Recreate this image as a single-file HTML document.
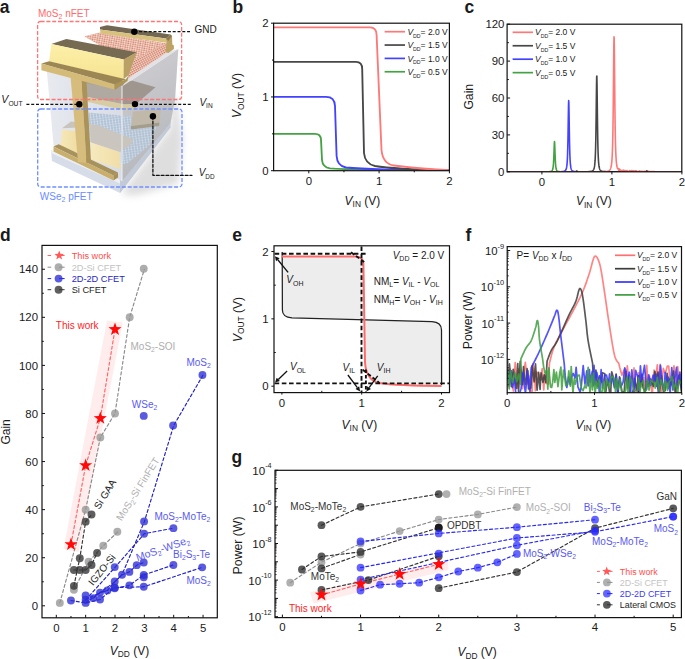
<!DOCTYPE html>
<html><head><meta charset="utf-8"><style>
html,body{margin:0;padding:0;background:#fff;width:685px;height:659px;overflow:hidden}
svg{display:block;font-family:"Liberation Sans", sans-serif}
</style></head><body>
<svg width="685" height="659" viewBox="0 0 685 659" font-family="'Liberation Sans', sans-serif">
<rect width="685" height="659" fill="#fff"/>
<clipPath id="cb"><rect x="273.6" y="22.2" width="175.79999999999995" height="148.0"/></clipPath>
<path d="M273.6,133.9 H315 C318.5,133.9 320.8,136 321,139.5 L322,160 C322.4,165 324.5,167.5 330,168.3 C345,169.5 380,170.2 449.4,170.6" fill="none" stroke="#44a244" stroke-width="1.85" clip-path="url(#cb)"/>
<path d="M273.6,96.9 H326 C331,96.9 334.8,99.5 335,106 L336.6,156 C337,163 340,166.5 346,167.5 C365,169.3 390,170 449.4,170.5" fill="none" stroke="#4343ff" stroke-width="1.85" clip-path="url(#cb)"/>
<path d="M273.6,61.9 H356 C360,61.9 362.2,64.5 362.2,69 L364,153 C364.6,160 368,164.5 375,166 C390,168.5 410,169.5 449.4,170.4" fill="none" stroke="#474747" stroke-width="1.85" clip-path="url(#cb)"/>
<path d="M273.6,27.3 H370 C374,27.3 376.6,30 376.6,35 L381.5,150 C382.3,158 386,164.5 394,165.5 C410,167.5 430,169.5 449.4,170.2" fill="none" stroke="#ff7878" stroke-width="1.85" clip-path="url(#cb)"/>
<rect x="273.6" y="23.2" width="175.8" height="147.5" fill="none" stroke="#111111" stroke-width="1.2" />
<line x1="271" y1="170.7" x2="273.6" y2="170.7" stroke="#111111" stroke-width="1" />
<line x1="271" y1="96.95" x2="273.6" y2="96.95" stroke="#111111" stroke-width="1" />
<line x1="271" y1="23.2" x2="273.6" y2="23.2" stroke="#111111" stroke-width="1" />
<line x1="272" y1="133.82" x2="273.6" y2="133.82" stroke="#111111" stroke-width="1" />
<line x1="272" y1="60.07" x2="273.6" y2="60.07" stroke="#111111" stroke-width="1" />
<line x1="308.8" y1="170.7" x2="308.8" y2="173.3" stroke="#111111" stroke-width="1" />
<line x1="379.1" y1="170.7" x2="379.1" y2="173.3" stroke="#111111" stroke-width="1" />
<line x1="449.4" y1="170.7" x2="449.4" y2="173.3" stroke="#111111" stroke-width="1" />
<line x1="343.95" y1="170.7" x2="343.95" y2="172.3" stroke="#111111" stroke-width="1" />
<line x1="414.25" y1="170.7" x2="414.25" y2="172.3" stroke="#111111" stroke-width="1" />
<text x="268.6" y="174.8" font-size="11.4" fill="#1a1a1a" text-anchor="end" >0</text>
<text x="308.8" y="185.4" font-size="11.4" fill="#1a1a1a" text-anchor="middle" >0</text>
<text x="268.6" y="101.05" font-size="11.4" fill="#1a1a1a" text-anchor="end" >1</text>
<text x="379.1" y="185.4" font-size="11.4" fill="#1a1a1a" text-anchor="middle" >1</text>
<text x="268.6" y="27.3" font-size="11.4" fill="#1a1a1a" text-anchor="end" >2</text>
<text x="449.4" y="185.4" font-size="11.4" fill="#1a1a1a" text-anchor="middle" >2</text>
<line x1="384.6" y1="31.7" x2="405" y2="31.7" stroke="#ff7878" stroke-width="1.7" />
<text x="407.4" y="34.8" font-size="8.5" fill="#1a1a1a" ><tspan font-style="italic">V</tspan><tspan font-size="5.2" dy="2.8">DD</tspan><tspan dy="-2.8">= 2.0 V</tspan></text>
<line x1="384.6" y1="45.05" x2="405" y2="45.05" stroke="#474747" stroke-width="1.7" />
<text x="407.4" y="48.15" font-size="8.5" fill="#1a1a1a" ><tspan font-style="italic">V</tspan><tspan font-size="5.2" dy="2.8">DD</tspan><tspan dy="-2.8">= 1.5 V</tspan></text>
<line x1="384.6" y1="58.4" x2="405" y2="58.4" stroke="#4343ff" stroke-width="1.7" />
<text x="407.4" y="61.5" font-size="8.5" fill="#1a1a1a" ><tspan font-style="italic">V</tspan><tspan font-size="5.2" dy="2.8">DD</tspan><tspan dy="-2.8">= 1.0 V</tspan></text>
<line x1="384.6" y1="71.75" x2="405" y2="71.75" stroke="#44a244" stroke-width="1.7" />
<text x="407.4" y="74.85" font-size="8.5" fill="#1a1a1a" ><tspan font-style="italic">V</tspan><tspan font-size="5.2" dy="2.8">DD</tspan><tspan dy="-2.8">= 0.5 V</tspan></text>
<text x="241" y="118" font-size="12" fill="#1a1a1a" transform="rotate(-90 241 118)" ><tspan font-style="italic">V</tspan><tspan font-size="8.4" dy="2.6">OUT</tspan><tspan dy="-2.6"> (V)</tspan></text>
<text x="344.6" y="204.5" font-size="12" fill="#1a1a1a" ><tspan font-style="italic">V</tspan><tspan font-size="8.4" dy="2.6">IN</tspan><tspan dy="-2.6"> (V)</tspan></text>
<text x="232.6" y="12.75" font-size="17.5" fill="#1a1a1a" font-weight="bold" >b</text>
<clipPath id="cc"><rect x="507.1" y="24.2" width="174.69999999999993" height="147.60000000000002"/></clipPath>
<polyline points="506.9,171.8 507.6,171.8 508.3,171.8 509,171.8 509.7,171.8 510.4,171.8 511.1,171.8 511.8,171.8 512.5,171.8 513.2,171.8 513.9,171.8 514.6,171.8 515.3,171.8 516,171.8 516.7,171.8 517.4,171.8 518.1,171.8 518.8,171.8 519.5,171.8 520.2,171.8 520.9,171.8 521.6,171.8 522.3,171.8 523,171.8 523.7,171.8 524.4,171.8 525.1,171.8 525.8,171.8 526.5,171.8 527.2,171.8 527.9,171.8 528.6,171.8 529.3,171.8 530,171.8 530.7,171.8 531.4,171.8 532.1,171.8 532.8,171.8 533.5,171.8 534.2,171.8 534.9,171.8 535.6,171.8 536.3,171.8 537,171.8 537.7,171.8 538.4,171.8 539.1,171.79 539.8,171.79 540.5,171.79 541.2,171.79 541.9,171.79 542.6,171.79 543.3,171.79 544,171.78 544.7,171.78 545.4,171.77 546.1,171.77 546.8,171.76 547.5,171.74 548.2,171.72 548.9,171.69 549.08,171.68 549.25,171.67 549.42,171.65 549.6,171.64 549.77,171.62 549.95,171.6 550.12,171.57 550.3,171.54 550.48,171.51 550.65,171.47 550.83,171.43 551,171.37 551.17,171.3 551.35,171.22 551.52,171.12 551.7,171 551.88,170.85 552.05,170.65 552.23,170.41 552.4,170.09 552.58,169.66 552.75,169.1 552.92,168.35 553.1,167.31 553.27,165.88 553.45,163.89 553.62,161.15 553.8,157.45 553.98,152.8 554.15,147.68 554.33,143.39 554.5,141.67 554.67,143.39 554.85,147.68 555.02,152.8 555.2,157.45 555.38,161.15 555.55,163.89 555.73,165.88 555.9,167.31 556.08,168.35 556.25,169.1 556.42,169.66 556.6,170.09 556.77,170.41 556.95,170.65 557.12,170.85 557.3,171 557.48,171.12 557.65,171.22 557.83,171.3 558,171.37 558.17,171.43 558.35,171.47 558.52,171.51 558.7,171.54 558.88,171.57 559.05,171.6 559.23,171.62 559.4,171.64 559.58,171.65 559.75,171.67 559.92,171.68 560.1,171.69 560.8,171.72 561.5,171.74 562.2,171.76 562.9,171.77 563.6,171.77 564.3,171.78 565,171.78 565.7,171.79 566.4,171.79 567.1,171.79 567.8,171.79 568.5,171.79 569.2,171.79 569.9,171.79 570.6,171.8 571.3,171.8 572,171.8 572.7,171.8 573.4,171.8 574.1,171.8 574.8,171.8 575.5,171.8 576.2,171.8 576.9,171.8 577.6,171.8 578.3,171.8 579,171.8 579.7,171.8 580.4,171.8 581.1,171.8 581.8,171.8 582.5,171.8 583.2,171.8 583.9,171.8 584.6,171.8 585.3,171.8 586,171.8 586.7,171.8 587.4,171.8 588.1,171.8 588.8,171.8 589.5,171.8 590.2,171.8 590.9,171.8 591.6,171.8 592.3,171.8 593,171.8 593.7,171.8 594.4,171.8 595.1,171.8 595.8,171.8 596.5,171.8 597.2,171.8 597.9,171.8 598.6,171.8 599.3,171.8 600,171.8 600.7,171.8 601.4,171.8 602.1,171.8 602.8,171.8 603.5,171.8 604.2,171.8 604.9,171.8 605.6,171.8 606.3,171.8 607,171.8 607.7,171.8 608.4,171.8 609.1,171.8 609.8,171.8 610.5,171.8 611.2,171.8 611.9,171.8 612.6,171.8 613.3,171.8 614,171.8 614.7,171.8 615.4,171.8 616.1,171.8 616.8,171.8 617.5,171.8 618.2,171.8 618.9,171.8 619.6,171.8 620.3,171.8 621,171.8 621.7,171.8 622.4,171.8 623.1,171.8 623.8,171.8 624.5,171.8 625.2,171.8 625.9,171.8 626.6,171.8 627.3,171.8 628,171.8 628.7,171.8 629.4,171.8 630.1,171.8 630.8,171.8 631.5,171.8 632.2,171.8 632.9,171.8 633.6,171.8 634.3,171.8 635,171.8 635.7,171.8 636.4,171.8 637.1,171.8 637.8,171.8 638.5,171.8 639.2,171.8 639.9,171.8 640.6,171.8 641.3,171.8 642,171.8 642.7,171.8 643.4,171.8 644.1,171.8 644.8,171.8 645.5,171.8 646.2,171.8 646.9,171.8 647.6,171.8 648.3,171.8 649,171.8 649.7,171.8 650.4,171.8 651.1,171.8 651.8,171.8 652.5,171.8 653.2,171.8 653.9,171.8 654.6,171.8 655.3,171.8 656,171.8 656.7,171.8 657.4,171.8 658.1,171.8 658.8,171.8 659.5,171.8 660.2,171.8 660.9,171.8 661.6,171.8 662.3,171.8 663,171.8 663.7,171.8 664.4,171.8 665.1,171.8 665.8,171.8 666.5,171.8 667.2,171.8 667.9,171.8 668.6,171.8 669.3,171.8 670,171.8 670.7,171.8 671.4,171.8 672.1,171.8 672.8,171.8 673.5,171.8 674.2,171.8 674.9,171.8 675.6,171.8 676.3,171.8 677,171.8 677.7,171.8 678.4,171.8 679.1,171.8 679.8,171.8 680.5,171.8 681.2,171.8 681.9,171.8" fill="none" stroke="#44a244" stroke-width="1.6" stroke-linejoin="round" stroke-linecap="round" clip-path="url(#cc)"/>
<polyline points="506.9,171.8 507.6,171.8 508.3,171.8 509,171.8 509.7,171.8 510.4,171.8 511.1,171.8 511.8,171.8 512.5,171.8 513.2,171.8 513.9,171.8 514.6,171.8 515.3,171.8 516,171.8 516.7,171.8 517.4,171.8 518.1,171.8 518.8,171.8 519.5,171.8 520.2,171.8 520.9,171.8 521.6,171.8 522.3,171.8 523,171.8 523.7,171.8 524.4,171.8 525.1,171.8 525.8,171.8 526.5,171.8 527.2,171.8 527.9,171.8 528.6,171.8 529.3,171.8 530,171.8 530.7,171.8 531.4,171.8 532.1,171.8 532.8,171.8 533.5,171.8 534.2,171.8 534.9,171.8 535.6,171.8 536.3,171.8 537,171.8 537.7,171.8 538.4,171.8 539.1,171.8 539.8,171.8 540.5,171.8 541.2,171.8 541.9,171.8 542.6,171.8 543.3,171.8 544,171.8 544.7,171.8 545.4,171.8 546.1,171.8 546.8,171.79 547.5,171.79 548.2,171.79 548.9,171.79 549.6,171.79 550.3,171.79 551,171.79 551.7,171.79 552.4,171.79 553.1,171.79 553.8,171.78 554.5,171.78 555.2,171.78 555.9,171.77 556.6,171.77 557.3,171.76 558,171.76 558.7,171.75 559.4,171.73 560.1,171.72 560.8,171.69 561.5,171.66 562.2,171.61 562.9,171.54 563.6,171.42 563.77,171.37 563.95,171.33 564.12,171.27 564.3,171.21 564.48,171.14 564.65,171.05 564.83,170.95 565,170.84 565.17,170.69 565.35,170.53 565.52,170.32 565.7,170.07 565.88,169.76 566.05,169.38 566.23,168.9 566.4,168.29 566.58,167.5 566.75,166.47 566.92,165.12 567.1,163.3 567.27,160.84 567.45,157.48 567.62,152.87 567.8,146.58 567.98,138.21 568.15,127.73 568.33,116.07 568.5,105.8 568.67,100.62 568.85,102.92 569.02,111.6 569.2,123.11 569.38,134.25 569.55,143.5 569.73,150.58 569.9,155.81 570.08,159.62 570.25,162.41 570.43,164.45 570.6,165.98 570.77,167.12 570.95,168 571.12,168.67 571.3,169.2 571.48,169.62 571.65,169.96 571.83,170.23 572,170.45 572.18,170.63 572.35,170.78 572.52,170.91 572.7,171.02 572.88,171.11 573.05,171.18 573.23,171.25 573.4,171.31 573.58,171.36 573.75,171.4 573.93,171.44 574.1,171.47 574.27,171.5 574.45,171.53 575.15,171.6 575.85,171.66 576.55,171.69 577.25,171.72 577.95,171.73 578.65,171.75 579.35,171.76 580.05,171.76 580.75,171.77 581.45,171.77 582.15,171.78 582.85,171.78 583.55,171.78 584.25,171.79 584.95,171.79 585.65,171.79 586.35,171.79 587.05,171.79 587.75,171.79 588.45,171.79 589.15,171.79 589.85,171.79 590.55,171.79 591.25,171.8 591.95,171.8 592.65,171.8 593.35,171.8 594.05,171.8 594.75,171.8 595.45,171.8 596.15,171.8 596.85,171.8 597.55,171.8 598.25,171.8 598.95,171.8 599.65,171.8 600.35,171.8 601.05,171.8 601.75,171.8 602.45,171.8 603.15,171.8 603.85,171.8 604.55,171.8 605.25,171.8 605.95,171.8 606.65,171.8 607.35,171.8 608.05,171.8 608.75,171.8 609.45,171.8 610.15,171.8 610.85,171.8 611.55,171.8 612.25,171.8 612.95,171.8 613.65,171.8 614.35,171.8 615.05,171.8 615.75,171.8 616.45,171.8 617.15,171.8 617.85,171.8 618.55,171.8 619.25,171.8 619.95,171.8 620.65,171.8 621.35,171.8 622.05,171.8 622.75,171.8 623.45,171.8 624.15,171.8 624.85,171.8 625.55,171.8 626.25,171.8 626.95,171.8 627.65,171.8 628.35,171.8 629.05,171.8 629.75,171.8 630.45,171.8 631.15,171.8 631.85,171.8 632.55,171.8 633.25,171.8 633.95,171.8 634.65,171.8 635.35,171.8 636.05,171.8 636.75,171.8 637.45,171.8 638.15,171.8 638.85,171.8 639.55,171.8 640.25,171.8 640.95,171.8 641.65,171.8 642.35,171.8 643.05,171.8 643.75,171.8 644.45,171.8 645.15,171.8 645.85,171.8 646.55,171.8 647.25,171.8 647.95,171.8 648.65,171.8 649.35,171.8 650.05,171.8 650.75,171.8 651.45,171.8 652.15,171.8 652.85,171.8 653.55,171.8 654.25,171.8 654.95,171.8 655.65,171.8 656.35,171.8 657.05,171.8 657.75,171.8 658.45,171.8 659.15,171.8 659.85,171.8 660.55,171.8 661.25,171.8 661.95,171.8 662.65,171.8 663.35,171.8 664.05,171.8 664.75,171.8 665.45,171.8 666.15,171.8 666.85,171.8 667.55,171.8 668.25,171.8 668.95,171.8 669.65,171.8 670.35,171.8 671.05,171.8 671.75,171.8 672.45,171.8 673.15,171.8 673.85,171.8 674.55,171.8 675.25,171.8 675.95,171.8 676.65,171.8 677.35,171.8 678.05,171.8 678.75,171.8 679.45,171.8 680.15,171.8 680.85,171.8 681.55,171.8" fill="none" stroke="#4343ff" stroke-width="1.6" stroke-linejoin="round" stroke-linecap="round" clip-path="url(#cc)"/>
<polyline points="506.9,171.8 507.6,171.8 508.3,171.8 509,171.8 509.7,171.8 510.4,171.8 511.1,171.8 511.8,171.8 512.5,171.8 513.2,171.8 513.9,171.8 514.6,171.8 515.3,171.8 516,171.8 516.7,171.8 517.4,171.8 518.1,171.8 518.8,171.8 519.5,171.8 520.2,171.8 520.9,171.8 521.6,171.8 522.3,171.8 523,171.8 523.7,171.8 524.4,171.8 525.1,171.8 525.8,171.8 526.5,171.8 527.2,171.8 527.9,171.8 528.6,171.8 529.3,171.8 530,171.8 530.7,171.8 531.4,171.8 532.1,171.8 532.8,171.8 533.5,171.8 534.2,171.8 534.9,171.8 535.6,171.8 536.3,171.8 537,171.8 537.7,171.8 538.4,171.8 539.1,171.8 539.8,171.8 540.5,171.8 541.2,171.8 541.9,171.8 542.6,171.8 543.3,171.8 544,171.8 544.7,171.8 545.4,171.8 546.1,171.8 546.8,171.8 547.5,171.8 548.2,171.8 548.9,171.8 549.6,171.8 550.3,171.8 551,171.8 551.7,171.8 552.4,171.8 553.1,171.8 553.8,171.8 554.5,171.8 555.2,171.8 555.9,171.8 556.6,171.8 557.3,171.8 558,171.8 558.7,171.8 559.4,171.8 560.1,171.8 560.8,171.8 561.5,171.8 562.2,171.8 562.9,171.8 563.6,171.8 564.3,171.8 565,171.8 565.7,171.8 566.4,171.8 567.1,171.8 567.8,171.8 568.5,171.8 569.2,171.8 569.9,171.8 570.6,171.8 571.3,171.8 572,171.79 572.7,171.79 573.4,171.79 574.1,171.79 574.8,171.79 575.5,171.79 576.2,171.79 576.9,171.79 577.6,171.79 578.3,171.79 579,171.79 579.7,171.78 580.4,171.78 581.1,171.78 581.8,171.78 582.5,171.77 583.2,171.77 583.9,171.76 584.6,171.76 585.3,171.75 586,171.74 586.7,171.72 587.4,171.7 588.1,171.68 588.8,171.64 589.5,171.59 590.2,171.52 590.9,171.41 591.6,171.24 591.77,171.18 591.95,171.12 592.12,171.04 592.3,170.95 592.48,170.85 592.65,170.73 592.83,170.59 593,170.42 593.17,170.23 593.35,169.99 593.52,169.71 593.7,169.36 593.88,168.94 594.05,168.42 594.23,167.77 594.4,166.95 594.57,165.9 594.75,164.54 594.92,162.77 595.1,160.42 595.27,157.28 595.45,153.04 595.62,147.28 595.8,139.51 595.97,129.21 596.15,116.18 596.32,101.18 596.5,86.69 596.67,77.01 596.85,76.03 597.02,84.22 597.2,98.12 597.37,113.29 597.55,126.81 597.72,137.66 597.9,145.91 598.07,152.02 598.25,156.53 598.42,159.87 598.6,162.35 598.77,164.23 598.95,165.65 599.12,166.76 599.3,167.62 599.47,168.3 599.65,168.85 599.82,169.29 600,169.64 600.17,169.94 600.35,170.18 600.52,170.39 600.7,170.56 600.87,170.7 601.05,170.83 601.22,170.93 601.4,171.02 601.57,171.1 601.75,171.17 601.92,171.23 602.1,171.28 602.27,171.33 602.45,171.37 603.15,171.49 603.85,171.58 604.55,171.63 605.25,171.67 605.95,171.7 606.65,171.72 607.35,171.73 608.05,171.74 608.75,171.75 609.45,171.76 610.15,171.77 610.85,171.77 611.55,171.77 612.25,171.78 612.95,171.78 613.65,171.78 614.35,171.79 615.05,171.79 615.75,171.79 616.45,171.79 617.15,171.79 617.85,171.79 618.55,171.79 619.25,171.79 619.95,171.79 620.65,171.79 621.35,171.79 622.05,171.79 622.75,171.8 623.45,171.8 624.15,171.8 624.85,171.8 625.55,171.8 626.25,171.8 626.95,171.8 627.65,171.8 628.35,171.8 629.05,171.8 629.75,171.8 630.45,171.8 631.15,171.8 631.85,171.8 632.55,171.8 633.25,171.8 633.95,171.8 634.65,171.8 635.35,171.8 636.05,171.8 636.75,171.8 637.45,171.8 638.15,171.8 638.85,171.8 639.55,171.8 640.25,171.8 640.95,171.8 641.65,171.8 642.35,171.8 643.05,171.8 643.75,171.8 644.45,171.8 645.15,171.8 645.85,171.8 646.55,171.8 647.25,171.8 647.95,171.8 648.65,171.8 649.35,171.8 650.05,171.8 650.75,171.8 651.45,171.8 652.15,171.8 652.85,171.8 653.55,171.8 654.25,171.8 654.95,171.8 655.65,171.8 656.35,171.8 657.05,171.8 657.75,171.8 658.45,171.8 659.15,171.8 659.85,171.8 660.55,171.8 661.25,171.8 661.95,171.8 662.65,171.8 663.35,171.8 664.05,171.8 664.75,171.8 665.45,171.8 666.15,171.8 666.85,171.8 667.55,171.8 668.25,171.8 668.95,171.8 669.65,171.8 670.35,171.8 671.05,171.8 671.75,171.8 672.45,171.8 673.15,171.8 673.85,171.8 674.55,171.8 675.25,171.8 675.95,171.8 676.65,171.8 677.35,171.8 678.05,171.8 678.75,171.8 679.45,171.8 680.15,171.8 680.85,171.8 681.55,171.8" fill="none" stroke="#474747" stroke-width="1.6" stroke-linejoin="round" stroke-linecap="round" clip-path="url(#cc)"/>
<polyline points="506.9,171.8 507.6,171.8 508.3,171.8 509,171.8 509.7,171.8 510.4,171.8 511.1,171.8 511.8,171.8 512.5,171.8 513.2,171.8 513.9,171.8 514.6,171.8 515.3,171.8 516,171.8 516.7,171.8 517.4,171.8 518.1,171.8 518.8,171.8 519.5,171.8 520.2,171.8 520.9,171.8 521.6,171.8 522.3,171.8 523,171.8 523.7,171.8 524.4,171.8 525.1,171.8 525.8,171.8 526.5,171.8 527.2,171.8 527.9,171.8 528.6,171.8 529.3,171.8 530,171.8 530.7,171.8 531.4,171.8 532.1,171.8 532.8,171.8 533.5,171.8 534.2,171.8 534.9,171.8 535.6,171.8 536.3,171.8 537,171.8 537.7,171.8 538.4,171.8 539.1,171.8 539.8,171.8 540.5,171.8 541.2,171.8 541.9,171.8 542.6,171.8 543.3,171.8 544,171.8 544.7,171.8 545.4,171.8 546.1,171.8 546.8,171.8 547.5,171.8 548.2,171.8 548.9,171.8 549.6,171.8 550.3,171.8 551,171.8 551.7,171.8 552.4,171.8 553.1,171.8 553.8,171.8 554.5,171.8 555.2,171.8 555.9,171.8 556.6,171.8 557.3,171.8 558,171.8 558.7,171.8 559.4,171.8 560.1,171.8 560.8,171.8 561.5,171.8 562.2,171.8 562.9,171.8 563.6,171.8 564.3,171.8 565,171.8 565.7,171.8 566.4,171.8 567.1,171.8 567.8,171.8 568.5,171.8 569.2,171.8 569.9,171.8 570.6,171.8 571.3,171.8 572,171.8 572.7,171.8 573.4,171.8 574.1,171.8 574.8,171.8 575.5,171.8 576.2,171.8 576.9,171.8 577.6,171.8 578.3,171.8 579,171.8 579.7,171.8 580.4,171.8 581.1,171.8 581.8,171.8 582.5,171.8 583.2,171.79 583.9,171.79 584.6,171.79 585.3,171.79 586,171.79 586.7,171.79 587.4,171.79 588.1,171.79 588.8,171.79 589.5,171.79 590.2,171.79 590.9,171.79 591.6,171.79 592.3,171.78 593,171.78 593.7,171.78 594.4,171.78 595.1,171.78 595.8,171.77 596.5,171.77 597.2,171.77 597.9,171.76 598.6,171.76 599.3,171.75 600,171.74 600.7,171.73 601.4,171.72 602.1,171.71 602.8,171.69 603.5,171.67 604.2,171.64 604.9,171.6 605.6,171.55 606.3,171.47 607,171.37 607.7,171.22 608.4,170.98 609.1,170.6 609.28,170.47 609.45,170.32 609.62,170.15 609.8,169.95 609.98,169.72 610.15,169.45 610.33,169.13 610.5,168.75 610.67,168.29 610.85,167.75 611.02,167.09 611.2,166.29 611.38,165.3 611.55,164.07 611.73,162.52 611.9,160.57 612.08,158.07 612.25,154.84 612.42,150.63 612.6,145.11 612.77,137.85 612.95,128.32 613.12,115.99 613.3,100.53 613.47,82.29 613.65,63.01 613.82,46.27 614,36.79 614.17,37.9 614.35,49.19 614.52,66.81 614.7,86.1 614.87,103.87 615.05,118.7 615.22,130.43 615.4,139.46 615.57,146.34 615.75,151.57 615.92,155.55 616.1,158.62 616.27,161 616.45,162.86 616.62,164.34 616.8,165.51 616.97,166.46 617.15,167.23 617.32,167.87 617.5,168.39 617.67,168.36 617.85,168.13 618.02,168.78 618.2,168.6 618.37,168.79 618.55,170.06 618.72,170.33 618.9,168.9 619.07,170.13 619.25,170.29 619.42,168.96 619.6,170.04 619.77,169.44 620.47,170.35 621.17,170.23 621.87,171.21 622.57,170.45 623.27,170.13 623.97,170.77 624.67,170.46 625.37,170.62 626.07,171.61 626.77,170.56 627.47,170.85 628.17,171.3 628.87,171.71 629.57,170.54 630.27,171.12 630.97,170.81 631.67,170.63 632.37,170.87 633.07,170.64 633.77,171.3 634.47,170.84 635.17,171.28 635.87,170.75 636.57,170.84 637.27,171.69 637.97,171.65 638.67,171.58 639.37,170.88 640.07,171.39 640.77,171.24 641.47,171.54 642.17,171.38 642.87,171.49 643.57,171.53 644.27,171.38 644.97,171.4 645.67,171.21 646.37,171.38 647.07,171.25 647.77,171.33 648.47,171.28 649.17,171.47 649.87,171.72 650.57,171.44 651.27,171.43 651.97,171.48 652.67,171.62 653.37,171.59 654.07,171.74 654.77,171.61 655.47,171.69 656.17,171.75 656.87,171.79 657.57,171.72 658.27,171.74 658.97,171.8 659.67,171.8 660.37,171.8 661.07,171.8 661.77,171.8 662.47,171.8 663.17,171.8 663.87,171.8 664.57,171.8 665.27,171.8 665.97,171.8 666.67,171.8 667.37,171.8 668.07,171.8 668.77,171.8 669.47,171.8 670.17,171.8 670.87,171.8 671.57,171.8 672.27,171.8 672.97,171.8 673.67,171.8 674.37,171.8 675.07,171.8 675.77,171.8 676.47,171.8 677.17,171.8 677.87,171.8 678.57,171.8 679.27,171.8 679.97,171.8 680.67,171.8 681.37,171.8" fill="none" stroke="#ff7878" stroke-width="1.6" stroke-linejoin="round" stroke-linecap="round" clip-path="url(#cc)"/>
<rect x="507.1" y="24.2" width="174.7" height="147.6" fill="none" stroke="#111111" stroke-width="1.2" />
<line x1="507.1" y1="171.8" x2="510.1" y2="171.8" stroke="#111111" stroke-width="1" />
<text x="504.4" y="175.9" font-size="11.4" fill="#1a1a1a" text-anchor="end" >0</text>
<line x1="507.1" y1="134.9" x2="510.1" y2="134.9" stroke="#111111" stroke-width="1" />
<text x="504.4" y="139" font-size="11.4" fill="#1a1a1a" text-anchor="end" >30</text>
<line x1="507.1" y1="98" x2="510.1" y2="98" stroke="#111111" stroke-width="1" />
<text x="504.4" y="102.1" font-size="11.4" fill="#1a1a1a" text-anchor="end" >60</text>
<line x1="507.1" y1="61.1" x2="510.1" y2="61.1" stroke="#111111" stroke-width="1" />
<text x="504.4" y="65.2" font-size="11.4" fill="#1a1a1a" text-anchor="end" >90</text>
<line x1="507.1" y1="24.2" x2="510.1" y2="24.2" stroke="#111111" stroke-width="1" />
<text x="504.4" y="28.3" font-size="11.4" fill="#1a1a1a" text-anchor="end" >120</text>
<line x1="507.1" y1="153.35" x2="508.9" y2="153.35" stroke="#111111" stroke-width="1" />
<line x1="507.1" y1="116.45" x2="508.9" y2="116.45" stroke="#111111" stroke-width="1" />
<line x1="507.1" y1="79.55" x2="508.9" y2="79.55" stroke="#111111" stroke-width="1" />
<line x1="507.1" y1="42.65" x2="508.9" y2="42.65" stroke="#111111" stroke-width="1" />
<line x1="541.9" y1="171.8" x2="541.9" y2="174.4" stroke="#111111" stroke-width="1" />
<text x="541.9" y="186.2" font-size="11.4" fill="#1a1a1a" text-anchor="middle" >0</text>
<line x1="611.9" y1="171.8" x2="611.9" y2="174.4" stroke="#111111" stroke-width="1" />
<text x="611.9" y="186.2" font-size="11.4" fill="#1a1a1a" text-anchor="middle" >1</text>
<line x1="681.9" y1="171.8" x2="681.9" y2="174.4" stroke="#111111" stroke-width="1" />
<text x="681.9" y="186.2" font-size="11.4" fill="#1a1a1a" text-anchor="middle" >2</text>
<line x1="576.9" y1="171.8" x2="576.9" y2="170" stroke="#111111" stroke-width="1" />
<line x1="646.9" y1="171.8" x2="646.9" y2="170" stroke="#111111" stroke-width="1" />
<line x1="512.6" y1="32.3" x2="533" y2="32.3" stroke="#ff7878" stroke-width="1.7" />
<text x="535" y="35.4" font-size="8.5" fill="#1a1a1a" ><tspan font-style="italic">V</tspan><tspan font-size="5.2" dy="2.8">DD</tspan><tspan dy="-2.8">= 2.0 V</tspan></text>
<line x1="512.6" y1="45.75" x2="533" y2="45.75" stroke="#474747" stroke-width="1.7" />
<text x="535" y="48.85" font-size="8.5" fill="#1a1a1a" ><tspan font-style="italic">V</tspan><tspan font-size="5.2" dy="2.8">DD</tspan><tspan dy="-2.8">= 1.5 V</tspan></text>
<line x1="512.6" y1="59.2" x2="533" y2="59.2" stroke="#4343ff" stroke-width="1.7" />
<text x="535" y="62.3" font-size="8.5" fill="#1a1a1a" ><tspan font-style="italic">V</tspan><tspan font-size="5.2" dy="2.8">DD</tspan><tspan dy="-2.8">= 1.0 V</tspan></text>
<line x1="512.6" y1="72.65" x2="533" y2="72.65" stroke="#44a244" stroke-width="1.7" />
<text x="535" y="75.75" font-size="8.5" fill="#1a1a1a" ><tspan font-style="italic">V</tspan><tspan font-size="5.2" dy="2.8">DD</tspan><tspan dy="-2.8">= 0.5 V</tspan></text>
<text x="473.2" y="109.6" font-size="12.2" fill="#1a1a1a" transform="rotate(-90 473.2 109.6)" >Gain</text>
<text x="576" y="205" font-size="12" fill="#1a1a1a" ><tspan font-style="italic">V</tspan><tspan font-size="8.4" dy="2.6">IN</tspan><tspan dy="-2.6"> (V)</tspan></text>
<text x="464.5" y="12.75" font-size="17.5" fill="#1a1a1a" font-weight="bold" >c</text>
<polygon points="107,320.5 122.8,322.5 78.5,552 63.5,549" fill="#ffeded" stroke="none" stroke-width="0" />
<polyline points="59.82,602.92 85.65,509.64 100.33,437.52 115,413.48 129.68,317.32 144.35,269.24" fill="none" stroke="#8a8a8a" stroke-width="1.15" stroke-dasharray="3,2.4" stroke-linejoin="round" stroke-linecap="round" />
<polyline points="73.91,589.69 88.59,561.81 103.26,545.7 117.94,531.76" fill="none" stroke="#8a8a8a" stroke-width="1.15" stroke-dasharray="3,2.4" stroke-linejoin="round" stroke-linecap="round" />
<polyline points="73.91,585.85 79.78,558.2 85.65,521.66 91.52,514.45" fill="none" stroke="#333" stroke-width="1.15" stroke-dasharray="3,2.4" stroke-linejoin="round" stroke-linecap="round" />
<polyline points="73.91,569.98 79.78,569.98 85.65,569.98 91.52,564.93 97.1,552.91" fill="none" stroke="#333" stroke-width="1.15" stroke-dasharray="3,2.4" stroke-linejoin="round" stroke-linecap="round" />
<polyline points="85.65,599.79 115,567.34 144.35,533.68 173.7,528.15" fill="none" stroke="#1f1fcc" stroke-width="1.15" stroke-dasharray="3,2.4" stroke-linejoin="round" stroke-linecap="round" />
<polyline points="85.65,602.92 115,581.76 122.04,574.55 144.35,521.66 173.7,425.5 203.05,375.02" fill="none" stroke="#1f1fcc" stroke-width="1.15" stroke-dasharray="3,2.4" stroke-linejoin="round" stroke-linecap="round" />
<polyline points="93.28,598.11 100.03,592.58 107.37,590.41 115,581.52 122.04,574.79 129.38,571.9 136.72,565.17 143.76,562.53" fill="none" stroke="#1f1fcc" stroke-width="1.15" stroke-dasharray="3,2.4" stroke-linejoin="round" stroke-linecap="round" />
<polyline points="85.65,599.79 100.03,592.58 115,588.25 129.38,585.37 143.76,575.03 173.41,564.93" fill="none" stroke="#1f1fcc" stroke-width="1.15" stroke-dasharray="3,2.4" stroke-linejoin="round" stroke-linecap="round" />
<polyline points="70.97,600.51 85.65,602.92 100.03,599.55 114.71,587.53 143.76,586.81 202.17,567.34" fill="none" stroke="#1f1fcc" stroke-width="1.15" stroke-dasharray="3,2.4" stroke-linejoin="round" stroke-linecap="round" />
<polyline points="70.97,544.5 85.65,465.41 100.33,418.29 115,329.34" fill="none" stroke="#ff6464" stroke-width="1.15" stroke-dasharray="3,2.4" stroke-linejoin="round" stroke-linecap="round" />
<circle cx="59.82" cy="602.92" r="3.95" fill="rgba(150,150,150,0.78)" />
<circle cx="73.91" cy="589.69" r="3.95" fill="rgba(150,150,150,0.78)" />
<circle cx="85.65" cy="509.64" r="3.95" fill="rgba(150,150,150,0.78)" />
<circle cx="88.59" cy="561.81" r="3.95" fill="rgba(150,150,150,0.78)" />
<circle cx="100.33" cy="437.52" r="3.95" fill="rgba(150,150,150,0.78)" />
<circle cx="103.26" cy="545.7" r="3.95" fill="rgba(150,150,150,0.78)" />
<circle cx="115" cy="413.48" r="3.95" fill="rgba(150,150,150,0.78)" />
<circle cx="117.35" cy="531.76" r="3.95" fill="rgba(150,150,150,0.78)" />
<circle cx="129.68" cy="317.32" r="3.95" fill="rgba(150,150,150,0.78)" />
<circle cx="143.76" cy="268.76" r="3.95" fill="rgba(150,150,150,0.78)" />
<circle cx="73.91" cy="585.85" r="3.95" fill="rgba(55,55,55,0.8)" />
<circle cx="73.91" cy="569.98" r="3.95" fill="rgba(55,55,55,0.8)" />
<circle cx="79.78" cy="569.98" r="3.95" fill="rgba(55,55,55,0.8)" />
<circle cx="85.65" cy="569.98" r="3.95" fill="rgba(55,55,55,0.8)" />
<circle cx="91.52" cy="564.93" r="3.95" fill="rgba(55,55,55,0.8)" />
<circle cx="79.78" cy="558.2" r="3.95" fill="rgba(55,55,55,0.8)" />
<circle cx="97.1" cy="552.91" r="3.95" fill="rgba(55,55,55,0.8)" />
<circle cx="85.65" cy="521.66" r="3.95" fill="rgba(55,55,55,0.8)" />
<circle cx="91.52" cy="514.45" r="3.95" fill="rgba(55,55,55,0.8)" />
<circle cx="70.97" cy="600.51" r="3.95" fill="rgba(45,45,215,0.78)" />
<circle cx="85.65" cy="595.46" r="3.95" fill="rgba(45,45,215,0.78)" />
<circle cx="85.65" cy="599.79" r="3.95" fill="rgba(45,45,215,0.78)" />
<circle cx="85.65" cy="602.92" r="3.95" fill="rgba(45,45,215,0.78)" />
<circle cx="93.28" cy="598.11" r="3.95" fill="rgba(45,45,215,0.78)" />
<circle cx="100.03" cy="592.58" r="3.95" fill="rgba(45,45,215,0.78)" />
<circle cx="100.03" cy="599.55" r="3.95" fill="rgba(45,45,215,0.78)" />
<circle cx="107.37" cy="590.41" r="3.95" fill="rgba(45,45,215,0.78)" />
<circle cx="114.71" cy="581.52" r="3.95" fill="rgba(45,45,215,0.78)" />
<circle cx="114.71" cy="588.25" r="3.95" fill="rgba(45,45,215,0.78)" />
<circle cx="114.71" cy="567.1" r="3.95" fill="rgba(45,45,215,0.78)" />
<circle cx="122.04" cy="574.79" r="3.95" fill="rgba(45,45,215,0.78)" />
<circle cx="129.38" cy="571.9" r="3.95" fill="rgba(45,45,215,0.78)" />
<circle cx="129.38" cy="585.37" r="3.95" fill="rgba(45,45,215,0.78)" />
<circle cx="136.72" cy="565.17" r="3.95" fill="rgba(45,45,215,0.78)" />
<circle cx="143.76" cy="562.53" r="3.95" fill="rgba(45,45,215,0.78)" />
<circle cx="143.76" cy="575.03" r="3.95" fill="rgba(45,45,215,0.78)" />
<circle cx="143.76" cy="577.19" r="3.95" fill="rgba(45,45,215,0.78)" />
<circle cx="143.76" cy="586.81" r="3.95" fill="rgba(45,45,215,0.78)" />
<circle cx="144.06" cy="521.42" r="3.95" fill="rgba(45,45,215,0.78)" />
<circle cx="144.06" cy="533.68" r="3.95" fill="rgba(45,45,215,0.78)" />
<circle cx="173.41" cy="528.15" r="3.95" fill="rgba(45,45,215,0.78)" />
<circle cx="173.41" cy="564.93" r="3.95" fill="rgba(45,45,215,0.78)" />
<circle cx="202.17" cy="567.34" r="3.95" fill="rgba(45,45,215,0.78)" />
<circle cx="143.76" cy="415.88" r="3.95" fill="rgba(45,45,215,0.78)" />
<circle cx="173.11" cy="425.5" r="3.95" fill="rgba(45,45,215,0.78)" />
<circle cx="202.46" cy="375.02" r="3.95" fill="rgba(45,45,215,0.78)" />
<circle cx="114.71" cy="587.53" r="3.95" fill="rgba(45,45,215,0.78)" />
<polygon points="70.97,537.6 72.62,542.23 77.54,542.37 73.64,545.36 75.03,550.08 70.97,547.3 66.92,550.08 68.31,545.36 64.41,542.37 69.33,542.23" fill="#ff0a0a" stroke="none" stroke-width="0" />
<polygon points="85.65,458.51 87.3,463.14 92.21,463.27 88.31,466.27 89.71,470.99 85.65,468.21 81.59,470.99 82.99,466.27 79.09,463.27 84,463.14" fill="#ff0a0a" stroke="none" stroke-width="0" />
<polygon points="100.33,411.39 101.97,416.02 106.89,416.16 102.99,419.15 104.38,423.87 100.33,421.09 96.27,423.87 97.66,419.15 93.76,416.16 98.68,416.02" fill="#ff0a0a" stroke="none" stroke-width="0" />
<polygon points="115,322.44 116.65,327.07 121.56,327.21 117.66,330.21 119.06,334.92 115,332.14 110.94,334.92 112.34,330.21 108.44,327.21 113.35,327.07" fill="#ff0a0a" stroke="none" stroke-width="0" />
<rect x="42" y="245.4" width="175.3" height="372.4" fill="none" stroke="#111111" stroke-width="1.2" />
<line x1="42" y1="605.8" x2="45" y2="605.8" stroke="#111111" stroke-width="1" />
<text x="38" y="609.9" font-size="11.4" fill="#1a1a1a" text-anchor="end" >0</text>
<line x1="42" y1="557.72" x2="45" y2="557.72" stroke="#111111" stroke-width="1" />
<text x="38" y="561.82" font-size="11.4" fill="#1a1a1a" text-anchor="end" >20</text>
<line x1="42" y1="509.64" x2="45" y2="509.64" stroke="#111111" stroke-width="1" />
<text x="38" y="513.74" font-size="11.4" fill="#1a1a1a" text-anchor="end" >40</text>
<line x1="42" y1="461.56" x2="45" y2="461.56" stroke="#111111" stroke-width="1" />
<text x="38" y="465.66" font-size="11.4" fill="#1a1a1a" text-anchor="end" >60</text>
<line x1="42" y1="413.48" x2="45" y2="413.48" stroke="#111111" stroke-width="1" />
<text x="38" y="417.58" font-size="11.4" fill="#1a1a1a" text-anchor="end" >80</text>
<line x1="42" y1="365.4" x2="45" y2="365.4" stroke="#111111" stroke-width="1" />
<text x="38" y="369.5" font-size="11.4" fill="#1a1a1a" text-anchor="end" >100</text>
<line x1="42" y1="317.32" x2="45" y2="317.32" stroke="#111111" stroke-width="1" />
<text x="38" y="321.42" font-size="11.4" fill="#1a1a1a" text-anchor="end" >120</text>
<line x1="42" y1="269.24" x2="45" y2="269.24" stroke="#111111" stroke-width="1" />
<text x="38" y="273.34" font-size="11.4" fill="#1a1a1a" text-anchor="end" >140</text>
<line x1="42" y1="581.76" x2="43.8" y2="581.76" stroke="#111111" stroke-width="1" />
<line x1="42" y1="533.68" x2="43.8" y2="533.68" stroke="#111111" stroke-width="1" />
<line x1="42" y1="485.6" x2="43.8" y2="485.6" stroke="#111111" stroke-width="1" />
<line x1="42" y1="437.52" x2="43.8" y2="437.52" stroke="#111111" stroke-width="1" />
<line x1="42" y1="389.44" x2="43.8" y2="389.44" stroke="#111111" stroke-width="1" />
<line x1="42" y1="341.36" x2="43.8" y2="341.36" stroke="#111111" stroke-width="1" />
<line x1="42" y1="293.28" x2="43.8" y2="293.28" stroke="#111111" stroke-width="1" />
<line x1="56.3" y1="617.8" x2="56.3" y2="614.8" stroke="#111111" stroke-width="1" />
<text x="56.3" y="631.5" font-size="11.4" fill="#1a1a1a" text-anchor="middle" >0</text>
<line x1="85.65" y1="617.8" x2="85.65" y2="614.8" stroke="#111111" stroke-width="1" />
<text x="85.65" y="631.5" font-size="11.4" fill="#1a1a1a" text-anchor="middle" >1</text>
<line x1="115" y1="617.8" x2="115" y2="614.8" stroke="#111111" stroke-width="1" />
<text x="115" y="631.5" font-size="11.4" fill="#1a1a1a" text-anchor="middle" >2</text>
<line x1="144.35" y1="617.8" x2="144.35" y2="614.8" stroke="#111111" stroke-width="1" />
<text x="144.35" y="631.5" font-size="11.4" fill="#1a1a1a" text-anchor="middle" >3</text>
<line x1="173.7" y1="617.8" x2="173.7" y2="614.8" stroke="#111111" stroke-width="1" />
<text x="173.7" y="631.5" font-size="11.4" fill="#1a1a1a" text-anchor="middle" >4</text>
<line x1="203.05" y1="617.8" x2="203.05" y2="614.8" stroke="#111111" stroke-width="1" />
<text x="203.05" y="631.5" font-size="11.4" fill="#1a1a1a" text-anchor="middle" >5</text>
<line x1="70.97" y1="617.8" x2="70.97" y2="616" stroke="#111111" stroke-width="1" />
<line x1="100.33" y1="617.8" x2="100.33" y2="616" stroke="#111111" stroke-width="1" />
<line x1="129.68" y1="617.8" x2="129.68" y2="616" stroke="#111111" stroke-width="1" />
<line x1="159.03" y1="617.8" x2="159.03" y2="616" stroke="#111111" stroke-width="1" />
<line x1="188.38" y1="617.8" x2="188.38" y2="616" stroke="#111111" stroke-width="1" />
<line x1="47.6" y1="255.5" x2="51.2" y2="255.5" stroke="#ff6464" stroke-width="1" />
<line x1="59" y1="255.5" x2="64.6" y2="255.5" stroke="#ff6464" stroke-width="1" />
<polygon points="59.2,250.5 60.43,253.8 63.96,253.95 61.2,256.15 62.14,259.55 59.2,257.6 56.26,259.55 57.2,256.15 54.44,253.95 57.97,253.8" fill="#ff5a5a" stroke="none" stroke-width="0" />
<text x="71.7" y="258.8" font-size="9.2" fill="#ff4d4d" >This work</text>
<line x1="47.6" y1="267.2" x2="51.2" y2="267.2" stroke="#8a8a8a" stroke-width="1" />
<line x1="59" y1="267.2" x2="64.6" y2="267.2" stroke="#8a8a8a" stroke-width="1" />
<circle cx="58.6" cy="267.2" r="3.95" fill="rgba(150,150,150,0.78)" />
<text x="71.7" y="270.5" font-size="9.2" fill="#c2c2c2" >2D-Si CFET</text>
<line x1="47.6" y1="278.6" x2="51.2" y2="278.6" stroke="#1f1fcc" stroke-width="1" />
<line x1="59" y1="278.6" x2="64.6" y2="278.6" stroke="#1f1fcc" stroke-width="1" />
<circle cx="58.6" cy="278.6" r="3.95" fill="rgba(45,45,215,0.78)" />
<text x="71.7" y="281.9" font-size="9.2" fill="#2626c8" >2D-2D CFET</text>
<line x1="47.6" y1="289.7" x2="51.2" y2="289.7" stroke="#333" stroke-width="1" />
<line x1="59" y1="289.7" x2="64.6" y2="289.7" stroke="#333" stroke-width="1" />
<circle cx="58.6" cy="289.7" r="3.95" fill="rgba(55,55,55,0.8)" />
<text x="71.7" y="293" font-size="9.2" fill="#1e1e1e" >Si CFET</text>
<text x="55.8" y="328.7" font-size="10" fill="#ff1c1c" >This work</text>
<text x="130.5" y="350" font-size="10" fill="#aeaeae" >MoS<tspan font-size="6.8" dy="2.2">2</tspan><tspan dy="-2.2">-SOI</tspan></text>
<text x="131.8" y="407.6" font-size="10" fill="#5a5af0" >WSe<tspan font-size="6.8" dy="2.2">2</tspan></text>
<text x="186.4" y="366" font-size="10" fill="#5a5af0" >MoS<tspan font-size="6.8" dy="2.2">2</tspan></text>
<text x="154.4" y="520.2" font-size="10" fill="#5a5af0" >MoS<tspan font-size="6.8" dy="2.2">2</tspan><tspan dy="-2.2">-MoTe</tspan><tspan font-size="6.8" dy="2.2">2</tspan></text>
<text x="173" y="558" font-size="10" fill="#5a5af0" >Bi<tspan font-size="6.8" dy="2.2">2</tspan><tspan dy="-2.2">S</tspan><tspan font-size="6.8" dy="2.2">3</tspan><tspan dy="-2.2">-Te</tspan></text>
<text x="186.4" y="584" font-size="10" fill="#5a5af0" >MoS<tspan font-size="6.8" dy="2.2">2</tspan></text>
<text x="99.2" y="510" font-size="10" fill="#222" transform="rotate(-58 99.2 510)" >Si GAA</text>
<text x="121.6" y="521.6" font-size="10" fill="#b0b0b0" transform="rotate(-58 121.6 521.6)" >MoS<tspan font-size="7" dy="2.2">2</tspan><tspan dy="-2.2">-Si FinFET</tspan></text>
<text x="93" y="586.2" font-size="10" fill="#222" transform="rotate(-51 93 586.2)" >IGZO-Si</text>
<text x="137.4" y="561.2" font-size="10.6" fill="#5a5af0" transform="rotate(-19 137.4 561.2)" >MoS<tspan font-size="7" dy="2.2">2</tspan><tspan dy="-2.2">-WSe</tspan><tspan font-size="7" dy="2.2">2</tspan></text>
<text x="10.2" y="444.6" font-size="12" fill="#1a1a1a" transform="rotate(-90 10.2 444.6)" >Gain</text>
<text x="109.7" y="654.8" font-size="12" fill="#1a1a1a" ><tspan font-style="italic">V</tspan><tspan font-size="8.4" dy="2.6">DD</tspan><tspan dy="-2.6"> (V)</tspan></text>
<text x="0" y="240.8" font-size="17.5" fill="#1a1a1a" font-weight="bold" >d</text>
<path d="M282.4,256.6 H355 C359.5,256.6 363.2,258.8 363.4,263.5 L363.8,319.6 L292,317.8 C285.5,317.4 282.4,315.5 282.4,310 Z" fill="#ededed"/>
<path d="M363.8,319.6 L432,321.6 C438,321.9 441.5,324.5 441.5,330 L441.5,385.8 C420,385.8 395,385.2 378,383 C369,380 365.5,372 365,362 Z" fill="#ededed"/>
<path d="M282.2,252 L282.4,310 C282.4,315.5 285.5,317.4 292,317.8 C330,318.6 400,320.8 432,321.6 C438,321.9 441.5,324.5 441.5,330 L441.6,385" fill="none" stroke="#222" stroke-width="1.25"/>
<path d="M281.9,256.6 H355 C359.5,256.6 363.2,258.8 363.4,263.5 L365,362 C365.5,372 369,380 378,383 C395,385.2 420,385.8 441.6,386" fill="none" stroke="#ff6b6b" stroke-width="2.0"/>
<line x1="274.6" y1="253.8" x2="367.8" y2="253.8" stroke="#111" stroke-width="1.9" stroke-dasharray="4.6,2.6" />
<line x1="274.6" y1="383.4" x2="449" y2="383.4" stroke="#111" stroke-width="1.9" stroke-dasharray="4.6,2.6" />
<line x1="361.5" y1="246.5" x2="361.5" y2="392" stroke="#111" stroke-width="1.9" stroke-dasharray="4.6,2.6" />
<line x1="365.9" y1="369.5" x2="365.9" y2="392" stroke="#111" stroke-width="1.9" stroke-dasharray="3.5,2" />
<line x1="351" y1="252.3" x2="365.5" y2="263" stroke="#111" stroke-width="1.9" stroke-dasharray="4,2.2" />
<line x1="362.8" y1="369.8" x2="379.4" y2="382.9" stroke="#111" stroke-width="1.9" stroke-dasharray="4,2.2" />
<rect x="274" y="245.8" width="175.5" height="146.8" fill="none" stroke="#111111" stroke-width="1.2" />
<line x1="271.4" y1="386.2" x2="274" y2="386.2" stroke="#111111" stroke-width="1" />
<text x="268.6" y="390.3" font-size="11.4" fill="#1a1a1a" text-anchor="end" >0</text>
<line x1="281.9" y1="392.6" x2="281.9" y2="394.6" stroke="#111111" stroke-width="1" />
<text x="281.9" y="406.6" font-size="11.4" fill="#1a1a1a" text-anchor="middle" >0</text>
<line x1="271.4" y1="318.85" x2="274" y2="318.85" stroke="#111111" stroke-width="1" />
<text x="268.6" y="322.95" font-size="11.4" fill="#1a1a1a" text-anchor="end" >1</text>
<line x1="361.7" y1="392.6" x2="361.7" y2="394.6" stroke="#111111" stroke-width="1" />
<text x="361.7" y="406.6" font-size="11.4" fill="#1a1a1a" text-anchor="middle" >1</text>
<line x1="271.4" y1="251.5" x2="274" y2="251.5" stroke="#111111" stroke-width="1" />
<text x="268.6" y="255.6" font-size="11.4" fill="#1a1a1a" text-anchor="end" >2</text>
<line x1="441.5" y1="392.6" x2="441.5" y2="394.6" stroke="#111111" stroke-width="1" />
<text x="441.5" y="406.6" font-size="11.4" fill="#1a1a1a" text-anchor="middle" >2</text>
<line x1="274" y1="352.52" x2="275.8" y2="352.52" stroke="#111111" stroke-width="1" />
<line x1="321.8" y1="392.6" x2="321.8" y2="390.8" stroke="#111111" stroke-width="1" />
<line x1="274" y1="285.18" x2="275.8" y2="285.18" stroke="#111111" stroke-width="1" />
<line x1="401.6" y1="392.6" x2="401.6" y2="390.8" stroke="#111111" stroke-width="1" />
<line x1="288.1" y1="272.3" x2="277.82" y2="259.76" stroke="#111" stroke-width="1.3" />
<polygon points="274.9,256.2 279.6,258.3 276.04,261.22" fill="#111" stroke="none" stroke-width="0" />
<line x1="287.1" y1="371" x2="278.32" y2="379.42" stroke="#111" stroke-width="1.3" />
<polygon points="275,382.6 276.73,377.76 279.91,381.08" fill="#111" stroke="none" stroke-width="0" />
<line x1="347.9" y1="375" x2="357.35" y2="387.71" stroke="#111" stroke-width="1.3" />
<polygon points="360.1,391.4 355.51,389.08 359.2,386.34" fill="#111" stroke="none" stroke-width="0" />
<line x1="377.7" y1="375.9" x2="369.11" y2="387.68" stroke="#111" stroke-width="1.3" />
<polygon points="366.4,391.4 367.25,386.33 370.97,389.04" fill="#111" stroke="none" stroke-width="0" />
<text x="286.3" y="283.3" font-size="10" fill="#1a1a1a" ><tspan font-style="italic">V</tspan><tspan font-size="7" dy="2.2">OH</tspan></text>
<text x="290" y="370.4" font-size="10" fill="#1a1a1a" ><tspan font-style="italic">V</tspan><tspan font-size="7" dy="2.2">OL</tspan></text>
<text x="342.6" y="370.6" font-size="10" fill="#1a1a1a" ><tspan font-style="italic">V</tspan><tspan font-size="7" dy="2.2">IL</tspan></text>
<text x="376.8" y="370.6" font-size="10" fill="#1a1a1a" ><tspan font-style="italic">V</tspan><tspan font-size="7" dy="2.2">IH</tspan></text>
<text x="392.7" y="258.9" font-size="10" fill="#1a1a1a" ><tspan font-style="italic">V</tspan><tspan font-size="7" dy="2.2">DD</tspan><tspan dy="-2.2"> = 2.0 V</tspan></text>
<text x="373.8" y="285.2" font-size="10" fill="#1a1a1a" >NM<tspan font-size="7" dy="2.2">L</tspan><tspan dy="-2.2">= </tspan><tspan font-style="italic">V</tspan><tspan font-size="7" dy="2.2">IL</tspan><tspan dy="-2.2"> - </tspan><tspan font-style="italic">V</tspan><tspan font-size="7" dy="2.2">OL</tspan></text>
<text x="373.8" y="303" font-size="10" fill="#1a1a1a" >NM<tspan font-size="7" dy="2.2">H</tspan><tspan dy="-2.2">= </tspan><tspan font-style="italic">V</tspan><tspan font-size="7" dy="2.2">OH</tspan><tspan dy="-2.2"> - </tspan><tspan font-style="italic">V</tspan><tspan font-size="7" dy="2.2">IH</tspan></text>
<text x="241.8" y="342" font-size="12" fill="#1a1a1a" transform="rotate(-90 241.8 342)" ><tspan font-style="italic">V</tspan><tspan font-size="8.4" dy="2.6">OUT</tspan><tspan dy="-2.6"> (V)</tspan></text>
<text x="341.6" y="428.6" font-size="12" fill="#1a1a1a" ><tspan font-style="italic">V</tspan><tspan font-size="8.4" dy="2.6">IN</tspan><tspan dy="-2.6"> (V)</tspan></text>
<text x="232.2" y="240.5" font-size="17.5" fill="#1a1a1a" font-weight="bold" >e</text>
<clipPath id="cf"><rect x="507.2" y="246.6" width="174.3" height="146.1"/></clipPath>
<polyline points="506.2,368.52 508.48,386.74 510.22,369.21 512.03,375.16 513.31,391.04 515.22,362.5 517.56,388.27 518.62,368.97 519.51,382.95 520.36,370.22 522.51,388.62 524.11,369.98 525.35,362.31 527.5,383.99 528.66,375.5 530.69,391.56 532.11,391.57 532.91,363.53 534.46,370.84 535.38,390.59 536.61,371.76 538.95,374.82 540.15,380.35 542.22,368.53 543.74,389.93 544.75,374.84 546.22,383.34 548.57,383.83 549.4,363.4 549.72,362.16 550.13,360.52 550.6,358.57 551.15,356.39 551.76,354.1 552.42,351.77 553.14,349.5 553.9,347.4 554.66,345.53 555.41,343.84 556.2,342.23 557.04,340.58 558,338.79 559.1,336.75 560.39,334.36 561.9,331.5 563.75,328.02 565.96,323.96 568.41,319.49 570.98,314.79 573.54,310.06 576,305.46 578.22,301.18 580.1,297.4 581.64,294.08 582.98,291.04 584.13,288.23 585.14,285.6 586.05,283.11 586.89,280.71 587.69,278.35 588.5,276 589.28,273.61 590,271.22 590.65,268.87 591.25,266.62 591.8,264.51 592.3,262.58 592.77,260.9 593.2,259.5 593.58,258.42 593.88,257.62 594.13,257.05 594.34,256.67 594.54,256.45 594.74,256.32 594.95,256.25 595.2,256.2 595.48,256.17 595.76,256.22 596.04,256.34 596.34,256.56 596.64,256.88 596.95,257.3 597.27,257.84 597.6,258.5 597.94,259.23 598.29,259.98 598.64,260.82 599.01,261.78 599.38,262.91 599.77,264.26 600.18,265.88 600.6,267.8 601.04,270.09 601.51,272.71 601.99,275.61 602.48,278.73 602.98,281.98 603.49,285.33 604,288.69 604.5,292 604.99,295.28 605.47,298.61 605.95,301.98 606.44,305.43 606.94,308.94 607.46,312.55 608.01,316.27 608.6,320.1 609.24,324.25 609.94,328.81 610.67,333.58 611.42,338.39 612.18,343.05 612.92,347.37 613.63,351.18 614.3,354.3 614.95,356.7 615.61,358.55 616.27,359.95 616.91,360.99 617.49,361.76 618.02,362.35 618.46,362.87 618.8,363.4 619.8,367.78 621.97,375.15 624.35,369.2 626.39,377.2 627.3,365.81 628.49,377.98 630.02,379.15 631.74,376.01 632.78,382.65 633.98,367.96 636.29,395.04 638.5,372.49 639.47,395.22 640.65,374.84 642.76,385.68 643.85,377.52 645.01,393.65 646.79,365.43 647.92,385.34 649.43,375.99 650.82,383.37 652.2,395.47 654.05,370.17 655.08,381.75 657.33,364.78 658.17,388.37 660.14,364.26 661.06,392 663.3,368.47 665.37,373.49 667.26,366.09 668.73,366.2 670.45,386.95 672.18,377.36 674,365.96 675.97,391.97 677.7,366.55 678.63,378.08 680.39,384.78 682.31,369.74" fill="none" stroke="#ff7070" stroke-width="1.7" stroke-linejoin="round" stroke-linecap="round" clip-path="url(#cf)" stroke-opacity="0.85"/>
<polyline points="506.2,366.13 508.07,378.65 509.47,363.95 511.37,386.45 513.23,369.23 514.29,374.66 516.4,388.29 517.74,363.5 518.57,391.54 520.18,361.43 522.5,384.53 523.51,366.64 524.57,379.23 525.65,384.21 527.12,368.71 528.53,388.85 530.88,387.96 532.25,365.67 534.13,381.85 535.51,363.96 537.11,390.22 538.6,372.33 540.08,389.5 541.05,372.96 542.96,382.44 544.31,374.76 545.85,382.52 547.1,361.1 547.43,360.23 547.86,359.07 548.36,357.68 548.93,356.14 549.55,354.53 550.19,352.92 550.85,351.38 551.5,350 552.13,348.85 552.74,347.9 553.37,347.04 554.02,346.17 554.73,345.19 555.51,344.01 556.39,342.51 557.4,340.6 558.58,338.14 559.95,335.18 561.44,331.87 562.99,328.37 564.55,324.83 566.06,321.42 567.46,318.29 568.7,315.6 569.8,313.33 570.82,311.33 571.77,309.53 572.66,307.9 573.48,306.37 574.24,304.9 574.94,303.43 575.6,301.9 576.19,300.3 576.7,298.67 577.15,297.04 577.54,295.46 577.89,293.98 578.21,292.63 578.51,291.45 578.8,290.5 579.06,289.77 579.27,289.23 579.45,288.86 579.6,288.63 579.74,288.51 579.88,288.48 580.03,288.52 580.2,288.6 580.39,288.73 580.58,288.93 580.78,289.2 580.98,289.56 581.18,290.02 581.39,290.57 581.59,291.23 581.8,292 582,292.86 582.2,293.78 582.4,294.79 582.59,295.91 582.8,297.15 583.02,298.56 583.25,300.13 583.5,301.9 583.78,303.93 584.08,306.24 584.4,308.76 584.72,311.41 585.06,314.12 585.38,316.84 585.7,319.49 586,322 586.27,324.37 586.5,326.66 586.71,328.9 586.92,331.13 587.15,333.38 587.42,335.69 587.73,338.08 588.1,340.6 588.58,343.4 589.16,346.54 589.81,349.84 590.48,353.16 591.14,356.34 591.74,359.2 592.24,361.61 592.6,363.4 593.6,384.01 595.93,370.2 597.31,386.3 599.57,375.81 601.6,381.97 602.42,372.81 604.79,373.79 605.63,393.18 607.76,379.18 609.41,391.35 610.63,394.4 611.69,371.85 612.93,375.93 614.84,386.64 616.1,374.01 618.01,394.31 619.48,376.84 621.85,391.32 624.12,392.87 625.59,371.53 627.65,388.16 629.04,375.38 629.87,394.5 631.95,394.58 633.6,388.53 634.56,378.24 636.85,390.37 638.65,375.71 640.57,387 642.02,373.99 643.05,387.76 644.96,391.72 647.26,381.46 648.84,386.24 650.71,379.08 652.03,381.71 653.41,386.5 654.9,371.32 656.5,386.05 658.04,372.19 659.24,393.94 661.37,375.67 663.39,391.88 665.25,390.51 667.14,373.45 668.46,388.31 669.75,379.23 671.42,384.72 673.51,371.13 675.26,394.15 677.5,380.37 679.32,374.86 681.38,391.24 682.6,377.47" fill="none" stroke="#3c3c3c" stroke-width="1.7" stroke-linejoin="round" stroke-linecap="round" clip-path="url(#cf)" stroke-opacity="0.85"/>
<polyline points="506.2,368.74 508.09,375.85 509.26,384.71 511.24,370.93 512.38,387.65 514.52,378.29 515.76,393.92 517.86,393.28 519.85,392.81 521.06,388.44 523.07,372.38 524.45,385.97 525.44,392.88 527.82,370.6 529.81,391.14 531.2,367.9 531.8,366.7 532.59,365.15 533.53,363.3 534.58,361.23 535.7,359 536.86,356.67 538,354.32 539.1,352 540.2,349.62 541.36,347.08 542.55,344.43 543.75,341.73 544.94,339.02 546.09,336.38 547.19,333.85 548.2,331.5 549.15,329.26 550.06,327.05 550.94,324.9 551.77,322.83 552.55,320.88 553.26,319.08 553.92,317.44 554.5,316 554.99,314.73 555.39,313.6 555.72,312.6 555.99,311.77 556.22,311.1 556.44,310.61 556.66,310.3 556.9,310.2 557.14,310.27 557.36,310.5 557.57,310.9 557.76,311.49 557.96,312.28 558.16,313.28 558.37,314.52 558.6,316 558.84,317.77 559.09,319.83 559.34,322.13 559.59,324.65 559.87,327.33 560.15,330.15 560.46,333.05 560.8,336 561.19,339.26 561.65,342.97 562.14,346.94 562.64,350.95 563.12,354.81 563.56,358.3 563.93,361.24 564.2,363.4 565.2,375.91 566.84,387.51 568.61,376.86 570.19,384.53 571.3,377.63 573.14,373.42 575.09,378.03 576.12,367.45 577.94,386.9 580.13,392.08 581.26,386.38 583.2,365.68 584.97,384.22 586.76,370.74 588.13,385.94 589.4,369.5 590.38,382.32 592.21,371.37 593.08,385.96 594.02,365.33 595.02,384.98 596.77,372.35 598.16,378.52 599.5,394.3 601.12,369.7 602.4,388.07 604.65,375.16 606.55,375.16 608.29,384.65 609.55,373.93 610.41,382.55 612.42,378.55 614.46,387.79 616.15,374.75 617.64,392.89 618.62,384.3 619.91,378.16 620.91,387.28 623.12,381.98 624.77,367.91 626.09,371.35 627.09,384.7 629.28,372.23 630.67,392.06 631.82,369.73 634.11,393.64 635.62,370.35 637.76,377.07 638.78,392.21 640.43,365.81 641.71,382.09 642.56,377.17 644.5,365.3 646.6,389.67 648.73,374.74 650.75,385.5 653.15,375.04 655.2,381.45 656.05,374.19 658.35,392.71 660.51,365.39 662.53,384.88 664.07,388.54 665.18,372.27 666.29,381.85 668.4,377.23 670.14,393.17 671.74,367.5 672.88,390.03 674.36,381.69 676.54,367.43 677.59,388.06 679.87,372.13 681.64,388.45 682.46,368.5" fill="none" stroke="#3636ff" stroke-width="1.7" stroke-linejoin="round" stroke-linecap="round" clip-path="url(#cf)" stroke-opacity="0.85"/>
<polyline points="506.2,366.49 508.04,372.64 509.25,388.88 510.54,370.85 512.58,382.68 514.82,372.79 516.91,381.63 518.59,374.15 520.44,384.3 520.9,358.8 521.29,357.94 521.81,356.78 522.43,355.39 523.12,353.86 523.86,352.28 524.6,350.71 525.32,349.26 526,348 526.65,346.95 527.31,346.03 527.98,345.2 528.65,344.41 529.31,343.61 529.96,342.74 530.59,341.75 531.2,340.6 531.8,339.24 532.4,337.7 532.99,336.03 533.56,334.31 534.11,332.58 534.62,330.91 535.09,329.37 535.5,328 535.85,326.72 536.14,325.44 536.38,324.2 536.59,323.06 536.77,322.06 536.94,321.27 537.12,320.73 537.3,320.5 537.49,320.59 537.67,320.97 537.84,321.6 538,322.43 538.16,323.43 538.31,324.55 538.46,325.75 538.6,327 538.73,328.33 538.82,329.79 538.91,331.38 538.99,333.07 539.09,334.85 539.22,336.71 539.38,338.63 539.6,340.6 539.9,342.78 540.28,345.25 540.71,347.89 541.16,350.55 541.61,353.11 542.01,355.42 542.35,357.36 542.6,358.8 543.6,366.62 545.05,373.28 546.82,370.22 547.8,389.13 548.89,367.9 550.51,386.89 551.66,387.48 552.62,382.41 553.87,369.56 554.85,382.45 556.42,372.09 557.95,386.7 559.7,372.84 560.88,367.1 561.79,389.99 563.5,369.99 565.81,385.59 567.52,384.55 568.81,370.94 570.36,386.09 571.21,366.56 572.95,392.86 574.32,378.27 575.36,384.14 577.55,375.63 579.32,375.1 581.34,388.23 583.09,390.65 584.71,385.83 586.12,388.04 588.16,367.4 589.94,392.83 591.49,375.46 592.45,389.85 593.48,373.17 595.15,393.61 596.36,381.47 597.37,388.15 599.33,379.39 600.48,392.51 601.85,392.52 603.54,381.62 604.77,394.88 606.95,379.28 609.24,387.73 611.43,376.72 613.63,377.14 614.54,382.49 615.55,391.94 616.36,378.39 617.95,389.43 620.31,379.28 622.14,395.42 623.32,394.84 625.56,390.3 627.07,377.1 627.92,395.08 630.01,376.82 631.65,381.31 633.89,390.65 635.61,390.51 637.5,390.48 638.62,377.73 640.18,391.34 641.17,383.08 642.38,382.99 643.33,380.33 644.17,392.77 646.01,390.52 647.17,379.76 649.1,390.09 651,379.95 652.56,382.12 654.16,382.44 655.24,388.04 657.41,377.37 659.06,391.35 660.96,379.67 662.35,383.61 664.42,391.24 665.33,380.07 667.58,390.34 669.14,382.1 670.5,380.35 671.86,376.56 673.35,389.51 675.59,383.4 677.66,394.16 678.82,380.02 679.8,381.35 681.83,384.44" fill="none" stroke="#3e9e3e" stroke-width="1.7" stroke-linejoin="round" stroke-linecap="round" clip-path="url(#cf)" stroke-opacity="0.85"/>
<rect x="507.2" y="246.6" width="174.3" height="146.1" fill="none" stroke="#111111" stroke-width="1.2" />
<line x1="507.2" y1="250.5" x2="510.2" y2="250.5" stroke="#111111" stroke-width="1" />
<text x="504.2" y="255" font-size="11.4" fill="#1a1a1a" text-anchor="end" >10<tspan font-size="7.4" dy="-6.4">-9</tspan></text>
<line x1="507.2" y1="286.8" x2="510.2" y2="286.8" stroke="#111111" stroke-width="1" />
<text x="504.2" y="291.3" font-size="11.4" fill="#1a1a1a" text-anchor="end" >10<tspan font-size="7.4" dy="-6.4">-10</tspan></text>
<line x1="507.2" y1="323.1" x2="510.2" y2="323.1" stroke="#111111" stroke-width="1" />
<text x="504.2" y="327.6" font-size="11.4" fill="#1a1a1a" text-anchor="end" >10<tspan font-size="7.4" dy="-6.4">-11</tspan></text>
<line x1="507.2" y1="359.4" x2="510.2" y2="359.4" stroke="#111111" stroke-width="1" />
<text x="504.2" y="363.9" font-size="11.4" fill="#1a1a1a" text-anchor="end" >10<tspan font-size="7.4" dy="-6.4">-12</tspan></text>
<line x1="507.2" y1="275.87" x2="508.8" y2="275.87" stroke="#111111" stroke-width="0.8" />
<line x1="507.2" y1="269.48" x2="508.8" y2="269.48" stroke="#111111" stroke-width="0.8" />
<line x1="507.2" y1="264.95" x2="508.8" y2="264.95" stroke="#111111" stroke-width="0.8" />
<line x1="507.2" y1="261.43" x2="508.8" y2="261.43" stroke="#111111" stroke-width="0.8" />
<line x1="507.2" y1="258.55" x2="508.8" y2="258.55" stroke="#111111" stroke-width="0.8" />
<line x1="507.2" y1="256.12" x2="508.8" y2="256.12" stroke="#111111" stroke-width="0.8" />
<line x1="507.2" y1="254.02" x2="508.8" y2="254.02" stroke="#111111" stroke-width="0.8" />
<line x1="507.2" y1="252.16" x2="508.8" y2="252.16" stroke="#111111" stroke-width="0.8" />
<line x1="507.2" y1="312.17" x2="508.8" y2="312.17" stroke="#111111" stroke-width="0.8" />
<line x1="507.2" y1="305.78" x2="508.8" y2="305.78" stroke="#111111" stroke-width="0.8" />
<line x1="507.2" y1="301.25" x2="508.8" y2="301.25" stroke="#111111" stroke-width="0.8" />
<line x1="507.2" y1="297.73" x2="508.8" y2="297.73" stroke="#111111" stroke-width="0.8" />
<line x1="507.2" y1="294.85" x2="508.8" y2="294.85" stroke="#111111" stroke-width="0.8" />
<line x1="507.2" y1="292.42" x2="508.8" y2="292.42" stroke="#111111" stroke-width="0.8" />
<line x1="507.2" y1="290.32" x2="508.8" y2="290.32" stroke="#111111" stroke-width="0.8" />
<line x1="507.2" y1="288.46" x2="508.8" y2="288.46" stroke="#111111" stroke-width="0.8" />
<line x1="507.2" y1="348.47" x2="508.8" y2="348.47" stroke="#111111" stroke-width="0.8" />
<line x1="507.2" y1="342.08" x2="508.8" y2="342.08" stroke="#111111" stroke-width="0.8" />
<line x1="507.2" y1="337.55" x2="508.8" y2="337.55" stroke="#111111" stroke-width="0.8" />
<line x1="507.2" y1="334.03" x2="508.8" y2="334.03" stroke="#111111" stroke-width="0.8" />
<line x1="507.2" y1="331.15" x2="508.8" y2="331.15" stroke="#111111" stroke-width="0.8" />
<line x1="507.2" y1="328.72" x2="508.8" y2="328.72" stroke="#111111" stroke-width="0.8" />
<line x1="507.2" y1="326.62" x2="508.8" y2="326.62" stroke="#111111" stroke-width="0.8" />
<line x1="507.2" y1="324.76" x2="508.8" y2="324.76" stroke="#111111" stroke-width="0.8" />
<line x1="507.2" y1="384.77" x2="508.8" y2="384.77" stroke="#111111" stroke-width="0.8" />
<line x1="507.2" y1="378.38" x2="508.8" y2="378.38" stroke="#111111" stroke-width="0.8" />
<line x1="507.2" y1="373.85" x2="508.8" y2="373.85" stroke="#111111" stroke-width="0.8" />
<line x1="507.2" y1="370.33" x2="508.8" y2="370.33" stroke="#111111" stroke-width="0.8" />
<line x1="507.2" y1="367.45" x2="508.8" y2="367.45" stroke="#111111" stroke-width="0.8" />
<line x1="507.2" y1="365.02" x2="508.8" y2="365.02" stroke="#111111" stroke-width="0.8" />
<line x1="507.2" y1="362.92" x2="508.8" y2="362.92" stroke="#111111" stroke-width="0.8" />
<line x1="507.2" y1="361.06" x2="508.8" y2="361.06" stroke="#111111" stroke-width="0.8" />
<line x1="507.2" y1="392.7" x2="507.2" y2="394.9" stroke="#111111" stroke-width="1" />
<text x="507.2" y="407" font-size="11.4" fill="#1a1a1a" text-anchor="middle" >0</text>
<line x1="594.5" y1="392.7" x2="594.5" y2="394.9" stroke="#111111" stroke-width="1" />
<text x="594.5" y="407" font-size="11.4" fill="#1a1a1a" text-anchor="middle" >1</text>
<line x1="681.8" y1="392.7" x2="681.8" y2="394.9" stroke="#111111" stroke-width="1" />
<text x="681.8" y="407" font-size="11.4" fill="#1a1a1a" text-anchor="middle" >2</text>
<line x1="550.85" y1="392.7" x2="550.85" y2="390.9" stroke="#111111" stroke-width="1" />
<line x1="638.15" y1="392.7" x2="638.15" y2="390.9" stroke="#111111" stroke-width="1" />
<line x1="615" y1="255.3" x2="635.2" y2="255.3" stroke="#ff7070" stroke-width="1.7" />
<text x="636.9" y="258.4" font-size="8.5" fill="#1a1a1a" ><tspan font-style="italic">V</tspan><tspan font-size="5.2" dy="2.8">DD</tspan><tspan dy="-2.8">= 2.0 V</tspan></text>
<line x1="615" y1="268.7" x2="635.2" y2="268.7" stroke="#3c3c3c" stroke-width="1.7" />
<text x="636.9" y="271.8" font-size="8.5" fill="#1a1a1a" ><tspan font-style="italic">V</tspan><tspan font-size="5.2" dy="2.8">DD</tspan><tspan dy="-2.8">= 1.5 V</tspan></text>
<line x1="615" y1="282" x2="635.2" y2="282" stroke="#3636ff" stroke-width="1.7" />
<text x="636.9" y="285.1" font-size="8.5" fill="#1a1a1a" ><tspan font-style="italic">V</tspan><tspan font-size="5.2" dy="2.8">DD</tspan><tspan dy="-2.8">= 1.0 V</tspan></text>
<line x1="615" y1="294.9" x2="635.2" y2="294.9" stroke="#3e9e3e" stroke-width="1.7" />
<text x="636.9" y="298" font-size="8.5" fill="#1a1a1a" ><tspan font-style="italic">V</tspan><tspan font-size="5.2" dy="2.8">DD</tspan><tspan dy="-2.8">= 0.5 V</tspan></text>
<text x="516.6" y="259" font-size="10" fill="#1a1a1a" >P= <tspan font-style="italic">V</tspan><tspan font-size="7" dy="2.2">DD</tspan><tspan dy="-2.2"> x </tspan><tspan font-style="italic">I</tspan><tspan font-size="7" dy="2.2">DD</tspan></text>
<text x="472.2" y="349.2" font-size="12.3" fill="#1a1a1a" transform="rotate(-90 472.2 349.2)" >Power (W)</text>
<text x="575.5" y="428.6" font-size="12" fill="#1a1a1a" ><tspan font-style="italic">V</tspan><tspan font-size="8.4" dy="2.6">IN</tspan><tspan dy="-2.6"> (V)</tspan></text>
<text x="465.5" y="240.5" font-size="17.5" fill="#1a1a1a" font-weight="bold" >f</text>
<polygon points="310,592 447.6,561 448.6,570 313.5,603.5" fill="#ffeded" stroke="none" stroke-width="0" />
<polyline points="290.22,582.66 321.48,562.17 360.56,543.5 399.64,531.06 438.72,519.53 477.8,514.4 516.88,507.08" fill="none" stroke="#8a8a8a" stroke-width="1.15" stroke-dasharray="3,2.4" stroke-linejoin="round" stroke-linecap="round" />
<polyline points="321.48,525.2 360.56,506.9 438.72,494.09" fill="none" stroke="#333" stroke-width="1.15" stroke-dasharray="3,2.4" stroke-linejoin="round" stroke-linecap="round" />
<polyline points="301.94,569.49 321.48,556.49 360.56,551.92 438.72,527.76" fill="none" stroke="#333" stroke-width="1.15" stroke-dasharray="3,2.4" stroke-linejoin="round" stroke-linecap="round" />
<polyline points="321.48,568.39 360.56,554.48" fill="none" stroke="#333" stroke-width="1.15" stroke-dasharray="3,2.4" stroke-linejoin="round" stroke-linecap="round" />
<polyline points="321.48,589.98 368.38,580.1 438.72,556.31" fill="none" stroke="#333" stroke-width="1.15" stroke-dasharray="3,2.4" stroke-linejoin="round" stroke-linecap="round" />
<polyline points="438.72,588.15 516.88,572.05 595.04,528.13 673.2,508.36" fill="none" stroke="#333" stroke-width="1.15" stroke-dasharray="3,2.4" stroke-linejoin="round" stroke-linecap="round" />
<polyline points="360.56,541.49 438.72,533.44 516.88,527.21 595.04,519.71" fill="none" stroke="#2a2aee" stroke-width="1.15" stroke-dasharray="3,2.4" stroke-linejoin="round" stroke-linecap="round" />
<polyline points="360.56,567.66 516.88,538.01 595.04,531.79 673.2,516.6" fill="none" stroke="#2a2aee" stroke-width="1.15" stroke-dasharray="3,2.4" stroke-linejoin="round" stroke-linecap="round" />
<polyline points="360.56,579.55 516.88,545.33 595.04,530.69" fill="none" stroke="#2a2aee" stroke-width="1.15" stroke-dasharray="3,2.4" stroke-linejoin="round" stroke-linecap="round" />
<polyline points="360.56,590.53 380.1,584.67 399.64,583.76 419.18,582.66 438.72,577.36 458.26,571.5 477.8,567.66 497.34,562.35 516.88,553.93" fill="none" stroke="#2a2aee" stroke-width="1.15" stroke-dasharray="3,2.4" stroke-linejoin="round" stroke-linecap="round" />
<polyline points="321.48,594.92 360.56,583.94 399.64,574.06 438.72,564.36" fill="none" stroke="#ff6464" stroke-width="1.15" stroke-dasharray="3,2.4" stroke-linejoin="round" stroke-linecap="round" />
<circle cx="290.22" cy="582.66" r="3.9" fill="rgba(150,150,150,0.75)" />
<circle cx="321.48" cy="562.17" r="3.9" fill="rgba(150,150,150,0.75)" />
<circle cx="360.56" cy="543.5" r="3.9" fill="rgba(150,150,150,0.75)" />
<circle cx="399.64" cy="531.06" r="3.9" fill="rgba(150,150,150,0.75)" />
<circle cx="438.72" cy="519.53" r="3.9" fill="rgba(150,150,150,0.75)" />
<circle cx="477.8" cy="514.4" r="3.9" fill="rgba(150,150,150,0.75)" />
<circle cx="516.88" cy="507.08" r="3.9" fill="rgba(150,150,150,0.75)" />
<circle cx="446.54" cy="494.09" r="3.9" fill="rgba(150,150,150,0.75)" />
<circle cx="360.56" cy="554.48" r="3.9" fill="rgba(150,150,150,0.75)" />
<circle cx="321.48" cy="525.2" r="3.9" fill="rgba(45,45,45,0.78)" />
<circle cx="360.56" cy="506.9" r="3.9" fill="rgba(45,45,45,0.78)" />
<circle cx="438.72" cy="494.09" r="3.9" fill="rgba(45,45,45,0.78)" />
<circle cx="301.94" cy="569.49" r="3.9" fill="rgba(45,45,45,0.78)" />
<circle cx="321.48" cy="556.49" r="3.9" fill="rgba(45,45,45,0.78)" />
<circle cx="360.56" cy="551.92" r="3.9" fill="rgba(45,45,45,0.78)" />
<circle cx="438.72" cy="527.76" r="3.9" fill="rgba(45,45,45,0.78)" />
<circle cx="321.48" cy="568.39" r="3.9" fill="rgba(45,45,45,0.78)" />
<circle cx="321.48" cy="589.98" r="3.9" fill="rgba(45,45,45,0.78)" />
<circle cx="368.38" cy="580.1" r="3.9" fill="rgba(45,45,45,0.78)" />
<circle cx="438.72" cy="556.31" r="3.9" fill="rgba(45,45,45,0.78)" />
<circle cx="438.72" cy="588.15" r="3.9" fill="rgba(45,45,45,0.78)" />
<circle cx="516.88" cy="572.05" r="3.9" fill="rgba(45,45,45,0.78)" />
<circle cx="595.04" cy="528.13" r="3.9" fill="rgba(45,45,45,0.78)" />
<circle cx="673.2" cy="508.36" r="3.9" fill="rgba(45,45,45,0.78)" />
<circle cx="438.72" cy="527.76" r="3.9" fill="#1a1a1a" />
<circle cx="360.56" cy="541.49" r="3.9" fill="rgba(40,40,255,0.72)" />
<circle cx="438.72" cy="533.44" r="3.9" fill="rgba(40,40,255,0.72)" />
<circle cx="516.88" cy="527.21" r="3.9" fill="rgba(40,40,255,0.72)" />
<circle cx="595.04" cy="519.71" r="3.9" fill="rgba(40,40,255,0.72)" />
<circle cx="360.56" cy="567.66" r="3.9" fill="rgba(40,40,255,0.72)" />
<circle cx="516.88" cy="538.01" r="3.9" fill="rgba(40,40,255,0.72)" />
<circle cx="595.04" cy="531.79" r="3.9" fill="rgba(40,40,255,0.72)" />
<circle cx="673.2" cy="516.6" r="3.9" fill="rgba(40,40,255,0.72)" />
<circle cx="360.56" cy="579.55" r="3.9" fill="rgba(40,40,255,0.72)" />
<circle cx="516.88" cy="545.33" r="3.9" fill="rgba(40,40,255,0.72)" />
<circle cx="595.04" cy="530.69" r="3.9" fill="rgba(40,40,255,0.72)" />
<circle cx="360.56" cy="590.53" r="3.9" fill="rgba(40,40,255,0.72)" />
<circle cx="380.1" cy="584.67" r="3.9" fill="rgba(40,40,255,0.72)" />
<circle cx="399.64" cy="583.76" r="3.9" fill="rgba(40,40,255,0.72)" />
<circle cx="419.18" cy="582.66" r="3.9" fill="rgba(40,40,255,0.72)" />
<circle cx="438.72" cy="577.36" r="3.9" fill="rgba(40,40,255,0.72)" />
<circle cx="458.26" cy="571.5" r="3.9" fill="rgba(40,40,255,0.72)" />
<circle cx="477.8" cy="567.66" r="3.9" fill="rgba(40,40,255,0.72)" />
<circle cx="497.34" cy="562.35" r="3.9" fill="rgba(40,40,255,0.72)" />
<circle cx="516.88" cy="553.93" r="3.9" fill="rgba(40,40,255,0.72)" />
<circle cx="438.72" cy="553.57" r="3.9" fill="rgba(40,40,255,0.72)" />
<circle cx="673.2" cy="516.6" r="3.9" fill="rgba(40,40,255,0.72)" />
<polygon points="321.48,587.92 323.16,592.62 328.14,592.76 324.19,595.8 325.59,600.59 321.48,597.77 317.37,600.59 318.77,595.8 314.82,592.76 319.8,592.62" fill="#ff0a0a" stroke="none" stroke-width="0" />
<polygon points="360.56,576.94 362.24,581.64 367.22,581.78 363.27,584.82 364.67,589.61 360.56,586.79 356.45,589.61 357.85,584.82 353.9,581.78 358.88,581.64" fill="#ff0a0a" stroke="none" stroke-width="0" />
<polygon points="399.64,567.06 401.32,571.76 406.3,571.9 402.35,574.94 403.75,579.72 399.64,576.91 395.53,579.72 396.93,574.94 392.98,571.9 397.96,571.76" fill="#ff0a0a" stroke="none" stroke-width="0" />
<polygon points="438.72,557.36 440.4,562.06 445.38,562.2 441.43,565.24 442.83,570.03 438.72,567.21 434.61,570.03 436.01,565.24 432.06,562.2 437.04,562.06" fill="#ff0a0a" stroke="none" stroke-width="0" />
<rect x="275" y="470.3" width="406.4" height="147.3" fill="none" stroke="#111111" stroke-width="1.2" />
<line x1="275" y1="470.3" x2="278" y2="470.3" stroke="#111111" stroke-width="1" />
<text x="271.6" y="474.9" font-size="11.6" fill="#1a1a1a" text-anchor="end" >10<tspan font-size="7.2" dy="-6.6">-4</tspan></text>
<line x1="275" y1="483.09" x2="276.6" y2="483.09" stroke="#111111" stroke-width="0.8" />
<line x1="275" y1="479.87" x2="276.6" y2="479.87" stroke="#111111" stroke-width="0.8" />
<line x1="275" y1="477.58" x2="276.6" y2="477.58" stroke="#111111" stroke-width="0.8" />
<line x1="275" y1="475.81" x2="276.6" y2="475.81" stroke="#111111" stroke-width="0.8" />
<line x1="275" y1="474.36" x2="276.6" y2="474.36" stroke="#111111" stroke-width="0.8" />
<line x1="275" y1="473.13" x2="276.6" y2="473.13" stroke="#111111" stroke-width="0.8" />
<line x1="275" y1="472.07" x2="276.6" y2="472.07" stroke="#111111" stroke-width="0.8" />
<line x1="275" y1="471.14" x2="276.6" y2="471.14" stroke="#111111" stroke-width="0.8" />
<line x1="275" y1="488.6" x2="278" y2="488.6" stroke="#111111" stroke-width="1" />
<line x1="275" y1="501.39" x2="276.6" y2="501.39" stroke="#111111" stroke-width="0.8" />
<line x1="275" y1="498.17" x2="276.6" y2="498.17" stroke="#111111" stroke-width="0.8" />
<line x1="275" y1="495.88" x2="276.6" y2="495.88" stroke="#111111" stroke-width="0.8" />
<line x1="275" y1="494.11" x2="276.6" y2="494.11" stroke="#111111" stroke-width="0.8" />
<line x1="275" y1="492.66" x2="276.6" y2="492.66" stroke="#111111" stroke-width="0.8" />
<line x1="275" y1="491.43" x2="276.6" y2="491.43" stroke="#111111" stroke-width="0.8" />
<line x1="275" y1="490.37" x2="276.6" y2="490.37" stroke="#111111" stroke-width="0.8" />
<line x1="275" y1="489.44" x2="276.6" y2="489.44" stroke="#111111" stroke-width="0.8" />
<line x1="275" y1="506.9" x2="278" y2="506.9" stroke="#111111" stroke-width="1" />
<text x="271.6" y="511.5" font-size="11.6" fill="#1a1a1a" text-anchor="end" >10<tspan font-size="7.2" dy="-6.6">-6</tspan></text>
<line x1="275" y1="519.69" x2="276.6" y2="519.69" stroke="#111111" stroke-width="0.8" />
<line x1="275" y1="516.47" x2="276.6" y2="516.47" stroke="#111111" stroke-width="0.8" />
<line x1="275" y1="514.18" x2="276.6" y2="514.18" stroke="#111111" stroke-width="0.8" />
<line x1="275" y1="512.41" x2="276.6" y2="512.41" stroke="#111111" stroke-width="0.8" />
<line x1="275" y1="510.96" x2="276.6" y2="510.96" stroke="#111111" stroke-width="0.8" />
<line x1="275" y1="509.73" x2="276.6" y2="509.73" stroke="#111111" stroke-width="0.8" />
<line x1="275" y1="508.67" x2="276.6" y2="508.67" stroke="#111111" stroke-width="0.8" />
<line x1="275" y1="507.74" x2="276.6" y2="507.74" stroke="#111111" stroke-width="0.8" />
<line x1="275" y1="525.2" x2="278" y2="525.2" stroke="#111111" stroke-width="1" />
<line x1="275" y1="537.99" x2="276.6" y2="537.99" stroke="#111111" stroke-width="0.8" />
<line x1="275" y1="534.77" x2="276.6" y2="534.77" stroke="#111111" stroke-width="0.8" />
<line x1="275" y1="532.48" x2="276.6" y2="532.48" stroke="#111111" stroke-width="0.8" />
<line x1="275" y1="530.71" x2="276.6" y2="530.71" stroke="#111111" stroke-width="0.8" />
<line x1="275" y1="529.26" x2="276.6" y2="529.26" stroke="#111111" stroke-width="0.8" />
<line x1="275" y1="528.03" x2="276.6" y2="528.03" stroke="#111111" stroke-width="0.8" />
<line x1="275" y1="526.97" x2="276.6" y2="526.97" stroke="#111111" stroke-width="0.8" />
<line x1="275" y1="526.04" x2="276.6" y2="526.04" stroke="#111111" stroke-width="0.8" />
<line x1="275" y1="543.5" x2="278" y2="543.5" stroke="#111111" stroke-width="1" />
<text x="271.6" y="548.1" font-size="11.6" fill="#1a1a1a" text-anchor="end" >10<tspan font-size="7.2" dy="-6.6">-8</tspan></text>
<line x1="275" y1="556.29" x2="276.6" y2="556.29" stroke="#111111" stroke-width="0.8" />
<line x1="275" y1="553.07" x2="276.6" y2="553.07" stroke="#111111" stroke-width="0.8" />
<line x1="275" y1="550.78" x2="276.6" y2="550.78" stroke="#111111" stroke-width="0.8" />
<line x1="275" y1="549.01" x2="276.6" y2="549.01" stroke="#111111" stroke-width="0.8" />
<line x1="275" y1="547.56" x2="276.6" y2="547.56" stroke="#111111" stroke-width="0.8" />
<line x1="275" y1="546.33" x2="276.6" y2="546.33" stroke="#111111" stroke-width="0.8" />
<line x1="275" y1="545.27" x2="276.6" y2="545.27" stroke="#111111" stroke-width="0.8" />
<line x1="275" y1="544.34" x2="276.6" y2="544.34" stroke="#111111" stroke-width="0.8" />
<line x1="275" y1="561.8" x2="278" y2="561.8" stroke="#111111" stroke-width="1" />
<line x1="275" y1="574.59" x2="276.6" y2="574.59" stroke="#111111" stroke-width="0.8" />
<line x1="275" y1="571.37" x2="276.6" y2="571.37" stroke="#111111" stroke-width="0.8" />
<line x1="275" y1="569.08" x2="276.6" y2="569.08" stroke="#111111" stroke-width="0.8" />
<line x1="275" y1="567.31" x2="276.6" y2="567.31" stroke="#111111" stroke-width="0.8" />
<line x1="275" y1="565.86" x2="276.6" y2="565.86" stroke="#111111" stroke-width="0.8" />
<line x1="275" y1="564.63" x2="276.6" y2="564.63" stroke="#111111" stroke-width="0.8" />
<line x1="275" y1="563.57" x2="276.6" y2="563.57" stroke="#111111" stroke-width="0.8" />
<line x1="275" y1="562.64" x2="276.6" y2="562.64" stroke="#111111" stroke-width="0.8" />
<line x1="275" y1="580.1" x2="278" y2="580.1" stroke="#111111" stroke-width="1" />
<text x="271.6" y="584.7" font-size="11.6" fill="#1a1a1a" text-anchor="end" >10<tspan font-size="7.2" dy="-6.6">-10</tspan></text>
<line x1="275" y1="592.89" x2="276.6" y2="592.89" stroke="#111111" stroke-width="0.8" />
<line x1="275" y1="589.67" x2="276.6" y2="589.67" stroke="#111111" stroke-width="0.8" />
<line x1="275" y1="587.38" x2="276.6" y2="587.38" stroke="#111111" stroke-width="0.8" />
<line x1="275" y1="585.61" x2="276.6" y2="585.61" stroke="#111111" stroke-width="0.8" />
<line x1="275" y1="584.16" x2="276.6" y2="584.16" stroke="#111111" stroke-width="0.8" />
<line x1="275" y1="582.93" x2="276.6" y2="582.93" stroke="#111111" stroke-width="0.8" />
<line x1="275" y1="581.87" x2="276.6" y2="581.87" stroke="#111111" stroke-width="0.8" />
<line x1="275" y1="580.94" x2="276.6" y2="580.94" stroke="#111111" stroke-width="0.8" />
<line x1="275" y1="598.4" x2="278" y2="598.4" stroke="#111111" stroke-width="1" />
<line x1="275" y1="611.19" x2="276.6" y2="611.19" stroke="#111111" stroke-width="0.8" />
<line x1="275" y1="607.97" x2="276.6" y2="607.97" stroke="#111111" stroke-width="0.8" />
<line x1="275" y1="605.68" x2="276.6" y2="605.68" stroke="#111111" stroke-width="0.8" />
<line x1="275" y1="603.91" x2="276.6" y2="603.91" stroke="#111111" stroke-width="0.8" />
<line x1="275" y1="602.46" x2="276.6" y2="602.46" stroke="#111111" stroke-width="0.8" />
<line x1="275" y1="601.23" x2="276.6" y2="601.23" stroke="#111111" stroke-width="0.8" />
<line x1="275" y1="600.17" x2="276.6" y2="600.17" stroke="#111111" stroke-width="0.8" />
<line x1="275" y1="599.24" x2="276.6" y2="599.24" stroke="#111111" stroke-width="0.8" />
<line x1="275" y1="616.7" x2="278" y2="616.7" stroke="#111111" stroke-width="1" />
<text x="271.6" y="621.3" font-size="11.6" fill="#1a1a1a" text-anchor="end" >10<tspan font-size="7.2" dy="-6.6">-12</tspan></text>
<line x1="275" y1="617.54" x2="276.6" y2="617.54" stroke="#111111" stroke-width="0.8" />
<line x1="282.4" y1="617.6" x2="282.4" y2="614.6" stroke="#111111" stroke-width="1" />
<text x="282.4" y="630.8" font-size="11.4" fill="#1a1a1a" text-anchor="middle" >0</text>
<line x1="360.56" y1="617.6" x2="360.56" y2="614.6" stroke="#111111" stroke-width="1" />
<text x="360.56" y="630.8" font-size="11.4" fill="#1a1a1a" text-anchor="middle" >1</text>
<line x1="438.72" y1="617.6" x2="438.72" y2="614.6" stroke="#111111" stroke-width="1" />
<text x="438.72" y="630.8" font-size="11.4" fill="#1a1a1a" text-anchor="middle" >2</text>
<line x1="516.88" y1="617.6" x2="516.88" y2="614.6" stroke="#111111" stroke-width="1" />
<text x="516.88" y="630.8" font-size="11.4" fill="#1a1a1a" text-anchor="middle" >3</text>
<line x1="595.04" y1="617.6" x2="595.04" y2="614.6" stroke="#111111" stroke-width="1" />
<text x="595.04" y="630.8" font-size="11.4" fill="#1a1a1a" text-anchor="middle" >4</text>
<line x1="673.2" y1="617.6" x2="673.2" y2="614.6" stroke="#111111" stroke-width="1" />
<text x="673.2" y="630.8" font-size="11.4" fill="#1a1a1a" text-anchor="middle" >5</text>
<line x1="321.48" y1="617.6" x2="321.48" y2="615.8" stroke="#111111" stroke-width="1" />
<line x1="399.64" y1="617.6" x2="399.64" y2="615.8" stroke="#111111" stroke-width="1" />
<line x1="477.8" y1="617.6" x2="477.8" y2="615.8" stroke="#111111" stroke-width="1" />
<line x1="555.96" y1="617.6" x2="555.96" y2="615.8" stroke="#111111" stroke-width="1" />
<line x1="634.12" y1="617.6" x2="634.12" y2="615.8" stroke="#111111" stroke-width="1" />
<line x1="596.9" y1="571.4" x2="599.9" y2="571.4" stroke="#ff6464" stroke-width="1" />
<line x1="607" y1="571.4" x2="612.5" y2="571.4" stroke="#ff6464" stroke-width="1" />
<polygon points="606.7,566.6 607.88,569.78 611.27,569.92 608.6,572.02 609.52,575.28 606.7,573.4 603.88,575.28 604.8,572.02 602.13,569.92 605.52,569.78" fill="#ff5a5a" stroke="none" stroke-width="0" />
<text x="619.8" y="574.6" font-size="8.9" fill="#ff4d4d" >This work</text>
<line x1="596.9" y1="582.4" x2="599.9" y2="582.4" stroke="#8a8a8a" stroke-width="1" />
<line x1="607" y1="582.4" x2="612.5" y2="582.4" stroke="#8a8a8a" stroke-width="1" />
<circle cx="606.9" cy="582.4" r="3.9" fill="rgba(150,150,150,0.75)" />
<text x="619.8" y="585.6" font-size="8.9" fill="#c4c4c4" >2D-Si CFET</text>
<line x1="596.9" y1="593.6" x2="599.9" y2="593.6" stroke="#2a2aee" stroke-width="1" />
<line x1="607" y1="593.6" x2="612.5" y2="593.6" stroke="#2a2aee" stroke-width="1" />
<circle cx="606.9" cy="593.6" r="3.9" fill="rgba(40,40,255,0.72)" />
<text x="619.8" y="596.8" font-size="8.9" fill="#3c3cf0" >2D-2D CFET</text>
<line x1="596.9" y1="604.8" x2="599.9" y2="604.8" stroke="#333" stroke-width="1" />
<line x1="607" y1="604.8" x2="612.5" y2="604.8" stroke="#333" stroke-width="1" />
<circle cx="606.9" cy="604.8" r="3.9" fill="rgba(45,45,45,0.78)" />
<text x="619.8" y="608" font-size="8.9" fill="#1e1e1e" >Lateral CMOS</text>
<text x="290.3" y="509.7" font-size="10" fill="#333" >MoS<tspan font-size="6.8" dy="2.2">2</tspan><tspan dy="-2.2">-MoTe</tspan><tspan font-size="6.8" dy="2.2">2</tspan></text>
<text x="310.8" y="579.6" font-size="10" fill="#333" >MoTe<tspan font-size="6.8" dy="2.2">2</tspan></text>
<text x="288.9" y="611.5" font-size="10" fill="#ff1c1c" >This work</text>
<text x="458.7" y="494.7" font-size="10" fill="#b0b0b0" >MoS<tspan font-size="6.8" dy="2.2">2</tspan><tspan dy="-2.2">-Si FinFET</tspan></text>
<text x="525.8" y="511.4" font-size="10" fill="#b0b0b0" >MoS<tspan font-size="6.8" dy="2.2">2</tspan><tspan dy="-2.2">-SOI</tspan></text>
<text x="446.9" y="528.8" font-size="10" fill="#333" >OPDBT</text>
<text x="522.9" y="556.8" font-size="10" fill="#5a5af0" >MoS<tspan font-size="6.8" dy="2.2">2</tspan><tspan dy="-2.2">-WSe</tspan><tspan font-size="6.8" dy="2.2">2</tspan></text>
<text x="656.4" y="500.2" font-size="10" fill="#333" >GaN</text>
<text x="583.8" y="510.9" font-size="10" fill="#5a5af0" >Bi<tspan font-size="6.8" dy="2.2">2</tspan><tspan dy="-2.2">S</tspan><tspan font-size="6.8" dy="2.2">3</tspan><tspan dy="-2.2">-Te</tspan></text>
<text x="653.7" y="532.3" font-size="10" fill="#5a5af0" >MoS<tspan font-size="6.8" dy="2.2">2</tspan></text>
<text x="592" y="545.2" font-size="10" fill="#5a5af0" >MoS<tspan font-size="6.8" dy="2.2">2</tspan><tspan dy="-2.2">-MoTe</tspan><tspan font-size="6.8" dy="2.2">2</tspan></text>
<text x="241.8" y="574.4" font-size="12.3" fill="#1a1a1a" transform="rotate(-90 241.8 574.4)" >Power (W)</text>
<text x="457.4" y="656" font-size="12" fill="#1a1a1a" ><tspan font-style="italic">V</tspan><tspan font-size="8.4" dy="2.6">DD</tspan><tspan dy="-2.6"> (V)</tspan></text>
<text x="231.4" y="462.8" font-size="17.5" fill="#1a1a1a" font-weight="bold" >g</text>
<defs>
<filter id="blur3" x="-50%" y="-50%" width="200%" height="200%"><feGaussianBlur stdDeviation="3.5"/></filter>
<filter id="blur1" x="-50%" y="-50%" width="200%" height="200%"><feGaussianBlur stdDeviation="0.6"/></filter>
<pattern id="pinkl" width="2.4" height="2.1" patternUnits="userSpaceOnUse" patternTransform="rotate(10)">
<rect width="2.4" height="2.1" fill="#e9bba9"/><circle cx="0.6" cy="0.5" r="0.55" fill="#f8e6de"/><circle cx="1.8" cy="1.55" r="0.55" fill="#d06c5c"/></pattern>
<pattern id="pinkl2" width="2.2" height="2.0" patternUnits="userSpaceOnUse" patternTransform="rotate(-28)">
<rect width="2.2" height="2.0" fill="#e4b09e"/><circle cx="0.55" cy="0.5" r="0.55" fill="#f6e0d6"/><circle cx="1.65" cy="1.5" r="0.55" fill="#cc6555"/></pattern>
<pattern id="bluel" width="3.0" height="2.5" patternUnits="userSpaceOnUse" patternTransform="rotate(-8)">
<rect width="3.0" height="2.5" fill="#aabbcf"/><circle cx="1.5" cy="1.25" r="0.95" fill="#d3e0ef"/></pattern>
<linearGradient id="yel" x1="0" y1="0" x2="0" y2="1"><stop offset="0" stop-color="#fcf0a9"/><stop offset="1" stop-color="#f6e391"/></linearGradient>
<linearGradient id="rface" x1="0" y1="0" x2="0.3" y2="1"><stop offset="0" stop-color="#d0d0d4"/><stop offset="1" stop-color="#b2b3b8"/></linearGradient>
<linearGradient id="fface" x1="0" y1="0" x2="1" y2="0"><stop offset="0" stop-color="#e8eaf0"/><stop offset="1" stop-color="#d7dae3"/></linearGradient>
<linearGradient id="cream" x1="0" y1="0" x2="1" y2="0"><stop offset="0" stop-color="#f6e8b8"/><stop offset="1" stop-color="#efdca2"/></linearGradient>
</defs>
<polygon points="171,95 177,100 183,140 178,184 135,196 121,194 170.5,127.5" fill="#c4c4c4" stroke="none" stroke-width="0" filter="url(#blur3)" opacity="0.55"/>
<polygon points="51,150 120,180.5 170.5,122.5 170.5,127.5 120,193 52,161" fill="#d6dce8" stroke="none" stroke-width="0" />
<polygon points="120,180.5 170.5,122.5 170.5,127.5 120,193" fill="#c3cad7" stroke="none" stroke-width="0" />
<polygon points="51,150 120,180.5 120,183.5 51,153" fill="#eceff5" stroke="none" stroke-width="0" />
<polygon points="46,62 122,86 122,181 54,150" fill="url(#fface)" stroke="none" stroke-width="0" />
<polygon points="121.4,87 178.3,48.9 175,100 170.5,123 122,181" fill="url(#rface)" stroke="none" stroke-width="0" />
<polygon points="84,82 132.8,80.7 155.5,87.3 136,104 124,104.5 86,96.5" fill="#978d84" stroke="none" stroke-width="0" />
<polygon points="84,82 122,84 122,104 86,96.5" fill="#aba39b" stroke="none" stroke-width="0" />
<polygon points="86,96.5 124,104.2 136,104 137,109 125,110.5 86,101.5" fill="#d6c99c" stroke="none" stroke-width="0" />
<polygon points="88.7,112.5 150,118 158.5,121 150,145 128,163 121,165 121,152 90,141.5 88.7,126" fill="url(#bluel)" stroke="none" stroke-width="0" />
<polygon points="133,111.5 161,108.8 159.5,122.5 131,126" fill="#bdb5a2" stroke="none" stroke-width="0" />
<polygon points="131,126 159.5,122.5 159,126 131,129.5" fill="#9d947e" stroke="none" stroke-width="0" />
<polygon points="62,128.2 71,121.4 95,124.5 90,127" fill="#c9c4bc" stroke="none" stroke-width="0" />
<polygon points="90,126.9 96,124.5 133,139.2 132.4,143.3 119.5,152.1 90.8,142.6" fill="#c6c2bb" stroke="none" stroke-width="0" />
<polygon points="62,129.6 77.1,131.6 78.5,152.8 60,150.1" fill="url(#cream)" stroke="none" stroke-width="0" />
<polygon points="90.8,142.6 119.5,152.1 120.8,169.2 90.8,159.6" fill="url(#cream)" stroke="none" stroke-width="0" />
<polygon points="86,84 122,86 122,181 86,166" fill="#ffffff" stroke="none" stroke-width="0" opacity="0.07"/>
<polygon points="121.4,87 178.3,48.9 175,100 170.5,123 122,181" fill="#d4d4d8" stroke="none" stroke-width="0" opacity="0.14"/>
<line x1="122" y1="86" x2="122" y2="181" stroke="#f6f6f8" stroke-width="0.9" />
<polygon points="53.5,146.5 58.7,144.3 118,172.5 113.5,175.5" fill="#a8925c" stroke="none" stroke-width="0" />
<polygon points="53.5,146.8 113.5,175.5 113.5,180.5 53.5,151.5" fill="#c9af6b" stroke="none" stroke-width="0" />
<polygon points="113.5,175.5 118,172.5 118,177.5 113.5,180.5" fill="#a88f57" stroke="none" stroke-width="0" />
<polygon points="70.5,76 81.3,78 86.5,163 78,162" fill="#d6bd7e" stroke="none" stroke-width="0" />
<polygon points="81.3,78 86.3,77 91,161.5 86.5,163" fill="#ab9358" stroke="none" stroke-width="0" />
<polygon points="121.4,87 178.3,48.9 166.9,52.3 128.2,78.5" fill="#e2e2e6" stroke="none" stroke-width="0" />
<polygon points="84,36.2 100,32.5 163,42.8 167,43.5 128.2,62.5 125,60" fill="url(#pinkl)" stroke="none" stroke-width="0" />
<polygon points="128.2,62.5 167,42.5 167,52.3 128.2,78.5" fill="url(#pinkl2)" stroke="none" stroke-width="0" />
<polygon points="100,27.1 107,25.3 170.5,34.6 166,38.6 100,29.6" fill="#726753" stroke="none" stroke-width="0" />
<polygon points="100,29.6 166,38.6 166.5,42.8 100.5,33.6" fill="#d8c07d" stroke="none" stroke-width="0" />
<polygon points="166,38.6 170.5,34.6 172,36 172.3,44.6 173.9,45.5 173.9,49.1 168.3,53 165.5,52.3 166.5,42.8" fill="#bda363" stroke="none" stroke-width="0" />
<polygon points="166,38.6 170.5,34.6 172,36 168.3,41" fill="#8a7a55" stroke="none" stroke-width="0" />
<polygon points="51.4,44.1 66.4,39.1 136.7,52.3 123.7,59.6" fill="#776a52" stroke="none" stroke-width="0" />
<polygon points="51.4,44.1 123.7,59.6 123.5,79.3 49.1,61.4" fill="url(#yel)" stroke="none" stroke-width="0" />
<polygon points="123.7,59.6 136.7,52.3 128.8,75.1 123.5,79.3" fill="#b9a165" stroke="none" stroke-width="0" />
<polygon points="41.4,63.6 49.1,61.2 125.8,79.3 114.5,84.2" fill="#9c8654" stroke="none" stroke-width="0" />
<polygon points="41.4,63.6 114.5,84.2 114.5,89.6 41.4,70.2" fill="#d4bb78" stroke="none" stroke-width="0" />
<polygon points="114.5,84.2 125.8,79.3 128.8,75.1 127.5,81 115.5,89.6 114.5,89.6" fill="#ad9556" stroke="none" stroke-width="0" />
<rect x="37.6" y="21.5" width="144" height="78" rx="3" fill="none" stroke="#ff7474" stroke-width="1.3" stroke-dasharray="4,1.8"/>
<rect x="37.7" y="109" width="144.3" height="78" rx="3" fill="none" stroke="#6f8fff" stroke-width="1.3" stroke-dasharray="4,1.8"/>
<line x1="134.3" y1="31.7" x2="190" y2="31.7" stroke="#111" stroke-width="1.3" stroke-dasharray="3,1.8" />
<line x1="26.4" y1="104.3" x2="79.3" y2="104.3" stroke="#111" stroke-width="1.3" stroke-dasharray="3,1.8" />
<line x1="135" y1="104.3" x2="192" y2="104.3" stroke="#111" stroke-width="1.3" stroke-dasharray="3,1.8" />
<polyline points="152.9,116.3 152.9,175.3 192,175.3" fill="none" stroke="#111" stroke-width="1.3" stroke-dasharray="3,1.8" stroke-linejoin="round" stroke-linecap="round" />
<circle cx="134.3" cy="31.7" r="3.2" fill="#000" />
<circle cx="79.3" cy="104.3" r="3.2" fill="#000" />
<circle cx="135" cy="104.1" r="3.2" fill="#000" />
<circle cx="152.9" cy="116.3" r="3.2" fill="#000" />
<text x="194.4" y="32.8" font-size="10" fill="#1a1a1a" >GND</text>
<text x="199.4" y="105.5" font-size="10" fill="#1a1a1a" ><tspan font-style="italic">V</tspan><tspan font-size="6.6" dy="2.5">IN</tspan></text>
<text x="198.7" y="176.2" font-size="10" fill="#1a1a1a" ><tspan font-style="italic">V</tspan><tspan font-size="6.4" dy="2.5">DD</tspan></text>
<text x="1.3" y="102.9" font-size="10.6" fill="#1a1a1a" ><tspan font-style="italic">V</tspan><tspan font-size="6.7" dy="2.9">OUT</tspan></text>
<text x="37.9" y="16.6" font-size="10" fill="#ff6b6b" >MoS<tspan font-size="7" dy="2.2">2</tspan><tspan dy="-2.2"> nFET</tspan></text>
<text x="39.8" y="199.7" font-size="10" fill="#6a8cff" >WSe<tspan font-size="7" dy="2.2">2</tspan><tspan dy="-2.2"> pFET</tspan></text>
<text x="-0.3" y="12.7" font-size="17.5" fill="#1a1a1a" font-weight="bold" >a</text>
</svg></body></html>
